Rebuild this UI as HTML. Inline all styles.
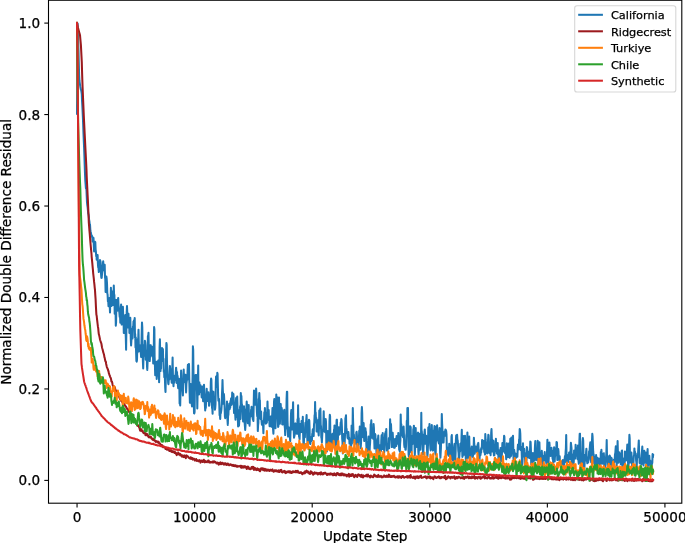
<!DOCTYPE html>
<html><head><meta charset="utf-8"><title>Normalized Double Difference Residual</title>
<style>html,body{margin:0;padding:0;background:#fff;overflow:hidden}svg{display:block;filter:blur(0.35px)}</style>
</head><body>
<svg width="685" height="543" viewBox="0 0 685 543"><rect width="685" height="543" fill="#fff"/><defs><clipPath id="ax"><rect x="48.5" y="0.25" width="633.3" height="502.95"/></clipPath></defs><g clip-path="url(#ax)" fill="none" stroke-width="2.04" stroke-linejoin="round" stroke-linecap="round"><polyline stroke="#1f77b4" points="77.0,114.0 77.3,65.1 77.6,23.6 77.9,32.8 78.2,42.2 78.5,51.3 78.8,63.3 79.1,74.9 79.4,80.5 79.7,82.7 80.0,84.7 80.3,86.7 80.6,88.2 80.9,89.8 81.2,90.3 81.5,92.2 81.8,94.4 82.0,100.2 82.3,105.2 82.6,111.1 82.9,117.7 83.2,125.5 83.5,133.9 83.8,140.9 84.1,147.8 84.4,155.6 84.7,164.9 85.0,173.8 85.3,180.4 85.6,184.1 85.9,188.3 86.2,187.9 86.5,190.7 86.7,195.8 87.0,202.4 87.3,205.2 87.6,207.0 87.9,210.1 88.2,213.5 88.5,214.3 88.8,216.2 89.1,219.7 89.4,221.4 89.7,224.7 90.0,224.4 90.3,229.6 90.6,231.5 90.9,232.7 91.2,234.6 91.5,235.0 91.7,236.5 92.0,235.9 92.3,236.8 92.6,241.6 92.9,239.9 93.2,239.5 93.5,237.9 93.8,245.6 94.1,251.5 94.4,251.1 94.7,244.0 95.0,241.8 95.3,242.1 95.6,249.3 95.9,251.7 96.2,256.3 96.4,254.6 96.7,259.7 97.0,258.3 97.3,256.5 97.6,255.1 97.9,263.3 98.2,267.3 98.5,267.8 98.8,272.1 99.1,271.6 99.4,269.9 99.7,264.0 100.0,260.0 100.3,260.8 100.6,262.2 100.9,270.9 101.2,276.4 101.4,277.9 101.7,277.8 102.0,274.1 102.3,271.7 102.6,267.0 102.9,264.2 103.2,261.2 103.5,266.8 103.8,269.2 104.1,266.9 104.4,270.6 104.7,264.7 105.0,277.1 105.3,279.0 105.6,292.0 105.9,290.3 106.1,286.7 106.4,276.6 106.7,279.0 107.0,283.4 107.3,293.2 107.6,294.6 107.9,301.4 108.2,300.4 108.5,306.3 108.8,301.0 109.1,302.3 109.4,297.9 109.7,304.5 110.0,312.4 110.3,300.5 110.6,303.1 110.9,287.8 111.1,295.6 111.4,290.4 111.7,305.9 112.0,304.3 112.3,293.0 112.6,292.1 112.9,300.1 113.2,305.1 113.5,298.5 113.8,285.5 114.1,295.7 114.4,294.9 114.7,313.8 115.0,299.5 115.3,307.4 115.6,313.3 115.8,325.7 116.1,322.5 116.4,299.9 116.7,301.8 117.0,302.3 117.3,310.7 117.6,299.7 117.9,300.4 118.2,298.0 118.5,305.1 118.8,307.0 119.1,309.8 119.4,313.1 119.7,317.0 120.0,314.1 120.3,322.8 120.6,310.7 120.8,312.8 121.1,304.6 121.4,317.1 121.7,324.6 122.0,322.4 122.3,312.6 122.6,309.7 122.9,306.8 123.2,316.6 123.5,317.4 123.8,333.1 124.1,325.8 124.4,326.7 124.7,320.1 125.0,317.9 125.3,314.9 125.5,330.4 125.8,337.4 126.1,349.7 126.4,327.9 126.7,312.3 127.0,306.1 127.3,313.5 127.6,327.4 127.9,322.4 128.2,319.2 128.5,313.7 128.8,323.4 129.1,317.7 129.4,332.9 129.7,325.2 130.0,328.5 130.3,317.8 130.5,326.8 130.8,339.3 131.1,345.5 131.4,340.4 131.7,329.2 132.0,336.7 132.3,334.4 132.6,338.4 132.9,326.7 133.2,327.2 133.5,321.4 133.8,322.5 134.1,320.2 134.4,326.8 134.7,317.9 135.0,337.6 135.2,333.9 135.5,347.6 135.8,337.6 136.1,351.9 136.4,361.1 136.7,361.6 137.0,359.9 137.3,345.8 137.6,352.5 137.9,339.1 138.2,340.3 138.5,329.8 138.8,343.7 139.1,348.9 139.4,351.3 139.7,350.3 140.0,346.8 140.2,345.6 140.5,351.0 140.8,352.6 141.1,357.0 141.4,347.0 141.7,333.3 142.0,322.6 142.3,327.3 142.6,350.9 142.9,361.7 143.2,368.5 143.5,357.3 143.8,355.5 144.1,345.1 144.4,354.0 144.7,349.2 144.9,340.8 145.2,342.0 145.5,345.3 145.8,359.8 146.1,350.5 146.4,350.5 146.7,352.9 147.0,366.1 147.3,369.9 147.6,361.2 147.9,336.0 148.2,336.4 148.5,332.8 148.8,349.1 149.1,349.9 149.4,357.9 149.7,361.1 149.9,359.1 150.2,345.3 150.5,356.6 150.8,345.2 151.1,355.8 151.4,348.0 151.7,355.0 152.0,352.2 152.3,348.0 152.6,346.8 152.9,348.6 153.2,363.4 153.5,357.4 153.8,347.4 154.1,327.1 154.4,329.5 154.6,356.8 154.9,364.1 155.2,375.2 155.5,370.7 155.8,364.4 156.1,364.5 156.4,361.7 156.7,378.9 157.0,375.4 157.3,374.3 157.6,367.5 157.9,371.2 158.2,360.5 158.5,364.1 158.8,366.3 159.1,382.3 159.4,368.7 159.6,347.4 159.9,339.3 160.2,353.8 160.5,371.1 160.8,366.9 161.1,368.5 161.4,356.6 161.7,354.7 162.0,348.1 162.3,354.4 162.6,359.4 162.9,349.0 163.2,361.4 163.5,358.8 163.8,372.0 164.1,370.5 164.3,377.3 164.6,376.5 164.9,378.0 165.2,387.8 165.5,391.9 165.8,378.5 166.1,355.1 166.4,342.9 166.7,345.0 167.0,363.3 167.3,368.2 167.6,374.1 167.9,377.7 168.2,383.2 168.5,384.3 168.8,379.0 169.1,379.6 169.3,378.1 169.6,379.0 169.9,365.9 170.2,368.8 170.5,369.3 170.8,375.3 171.1,376.6 171.4,379.2 171.7,382.7 172.0,377.3 172.3,369.1 172.6,357.5 172.9,374.6 173.2,381.3 173.5,386.3 173.8,375.9 174.0,376.6 174.3,382.6 174.6,379.2 174.9,375.5 175.2,379.9 175.5,376.6 175.8,371.5 176.1,367.7 176.4,371.4 176.7,382.9 177.0,372.1 177.3,377.5 177.6,375.9 177.9,385.3 178.2,388.2 178.5,384.9 178.8,381.7 179.0,378.8 179.3,383.6 179.6,403.4 179.9,403.4 180.2,405.4 180.5,391.6 180.8,384.7 181.1,370.6 181.4,375.1 181.7,384.7 182.0,387.5 182.3,388.6 182.6,391.0 182.9,395.4 183.2,385.4 183.5,382.0 183.7,369.6 184.0,379.9 184.3,374.6 184.6,381.9 184.9,377.5 185.2,377.6 185.5,374.8 185.8,382.5 186.1,392.4 186.4,383.8 186.7,381.4 187.0,378.2 187.3,379.8 187.6,370.6 187.9,364.7 188.2,378.7 188.5,369.9 188.7,371.1 189.0,363.9 189.3,380.8 189.6,392.2 189.9,402.7 190.2,401.2 190.5,390.9 190.8,384.0 191.1,392.7 191.4,403.1 191.7,403.7 192.0,406.5 192.3,390.3 192.6,376.0 192.9,346.3 193.2,349.8 193.4,366.3 193.7,392.1 194.0,413.2 194.3,413.4 194.6,412.0 194.9,387.7 195.2,379.8 195.5,375.0 195.8,380.8 196.1,380.8 196.4,374.9 196.7,384.4 197.0,392.0 197.3,408.4 197.6,393.3 197.9,381.8 198.2,365.5 198.4,386.8 198.7,393.4 199.0,394.5 199.3,382.3 199.6,385.5 199.9,385.7 200.2,392.1 200.5,385.2 200.8,387.0 201.1,387.4 201.4,393.4 201.7,397.4 202.0,390.4 202.3,391.3 202.6,386.4 202.9,394.2 203.1,401.3 203.4,394.0 203.7,397.9 204.0,384.8 204.3,391.9 204.6,395.8 204.9,405.3 205.2,410.4 205.5,406.3 205.8,407.9 206.1,401.4 206.4,398.4 206.7,388.8 207.0,396.6 207.3,393.5 207.6,400.9 207.9,398.3 208.1,397.0 208.4,392.2 208.7,395.8 209.0,405.8 209.3,405.2 209.6,400.7 209.9,395.7 210.2,401.5 210.5,400.3 210.8,382.0 211.1,378.5 211.4,380.0 211.7,394.6 212.0,408.0 212.3,408.2 212.6,413.7 212.8,391.4 213.1,391.8 213.4,391.8 213.7,401.4 214.0,402.3 214.3,401.9 214.6,401.2 214.9,409.8 215.2,408.4 215.5,404.1 215.8,383.0 216.1,376.4 216.4,380.8 216.7,387.0 217.0,385.0 217.3,372.7 217.6,373.9 217.8,383.0 218.1,394.9 218.4,400.8 218.7,398.4 219.0,398.9 219.3,404.9 219.6,415.3 219.9,414.8 220.2,418.9 220.5,412.0 220.8,413.4 221.1,411.6 221.4,409.4 221.7,404.8 222.0,394.0 222.3,387.4 222.5,380.0 222.8,389.8 223.1,394.4 223.4,403.7 223.7,393.7 224.0,394.7 224.3,400.9 224.6,407.0 224.9,416.4 225.2,418.2 225.5,411.3 225.8,414.6 226.1,416.3 226.4,416.7 226.7,409.6 227.0,401.5 227.3,416.7 227.5,420.5 227.8,424.9 228.1,415.8 228.4,414.9 228.7,406.6 229.0,407.2 229.3,403.7 229.6,409.3 229.9,404.9 230.2,407.8 230.5,400.9 230.8,402.3 231.1,398.2 231.4,404.9 231.7,404.4 232.0,398.8 232.2,392.6 232.5,393.5 232.8,394.4 233.1,400.0 233.4,394.1 233.7,400.1 234.0,413.0 234.3,412.6 234.6,411.9 234.9,406.1 235.2,414.6 235.5,419.7 235.8,402.5 236.1,398.1 236.4,402.7 236.7,412.0 237.0,417.0 237.2,396.5 237.5,407.0 237.8,417.5 238.1,426.5 238.4,423.5 238.7,414.5 239.0,425.7 239.3,420.8 239.6,410.0 239.9,408.9 240.2,406.1 240.5,419.1 240.8,393.0 241.1,398.5 241.4,396.0 241.7,404.6 241.9,404.1 242.2,406.8 242.5,409.3 242.8,415.2 243.1,421.5 243.4,414.4 243.7,413.4 244.0,406.2 244.3,416.1 244.6,422.5 244.9,426.1 245.2,430.0 245.5,425.4 245.8,418.3 246.1,409.1 246.4,408.5 246.7,401.6 246.9,404.9 247.2,408.9 247.5,414.9 247.8,423.2 248.1,411.9 248.4,410.9 248.7,405.1 249.0,419.7 249.3,421.7 249.6,425.7 249.9,414.8 250.2,416.2 250.5,416.4 250.8,415.1 251.1,409.9 251.4,408.4 251.6,406.7 251.9,412.8 252.2,410.9 252.5,416.9 252.8,419.2 253.1,419.8 253.4,421.0 253.7,404.1 254.0,390.6 254.3,391.1 254.6,393.9 254.9,404.7 255.2,399.9 255.5,404.8 255.8,402.7 256.1,388.4 256.4,393.7 256.6,404.6 256.9,412.0 257.2,416.3 257.5,408.6 257.8,431.1 258.1,425.1 258.4,422.6 258.7,399.0 259.0,399.5 259.3,393.0 259.6,399.9 259.9,400.5 260.2,416.9 260.5,418.9 260.8,418.3 261.1,411.4 261.3,417.6 261.6,421.6 261.9,424.7 262.2,421.7 262.5,421.1 262.8,422.2 263.1,426.0 263.4,433.3 263.7,421.3 264.0,420.0 264.3,412.3 264.6,420.2 264.9,408.0 265.2,415.7 265.5,421.0 265.8,423.6 266.1,413.5 266.3,415.6 266.6,423.0 266.9,422.1 267.2,411.9 267.5,401.6 267.8,412.7 268.1,417.0 268.4,418.7 268.7,410.1 269.0,420.4 269.3,420.7 269.6,426.3 269.9,425.9 270.2,425.3 270.5,424.5 270.8,416.9 271.0,416.4 271.3,424.5 271.6,426.8 271.9,424.8 272.2,415.2 272.5,407.9 272.8,420.0 273.1,429.7 273.4,433.7 273.7,425.4 274.0,402.1 274.3,399.1 274.6,408.8 274.9,417.0 275.2,425.2 275.5,428.2 275.8,418.3 276.0,410.8 276.3,394.5 276.6,409.8 276.9,399.2 277.2,402.5 277.5,397.6 277.8,417.4 278.1,426.9 278.4,426.1 278.7,411.6 279.0,397.6 279.3,406.9 279.6,415.8 279.9,423.7 280.2,415.0 280.5,412.0 280.7,403.9 281.0,409.8 281.3,407.5 281.6,407.9 281.9,409.6 282.2,424.2 282.5,424.5 282.8,415.8 283.1,411.6 283.4,416.2 283.7,424.3 284.0,415.0 284.3,409.7 284.6,425.7 284.9,428.0 285.2,435.1 285.5,429.6 285.7,429.2 286.0,426.0 286.3,417.8 286.6,399.0 286.9,391.7 287.2,391.7 287.5,420.2 287.8,428.1 288.1,436.6 288.4,431.0 288.7,432.0 289.0,427.5 289.3,429.9 289.6,430.4 289.9,436.4 290.2,441.1 290.4,435.1 290.7,427.8 291.0,414.0 291.3,410.1 291.6,413.1 291.9,415.4 292.2,429.5 292.5,414.5 292.8,411.1 293.1,402.3 293.4,425.2 293.7,429.7 294.0,437.7 294.3,436.4 294.6,435.3 294.9,425.7 295.2,424.4 295.4,423.4 295.7,429.8 296.0,425.6 296.3,433.6 296.6,431.9 296.9,431.2 297.2,433.8 297.5,419.2 297.8,425.6 298.1,405.3 298.4,425.7 298.7,418.3 299.0,436.1 299.3,437.1 299.6,439.1 299.9,430.0 300.1,429.6 300.4,423.9 300.7,432.2 301.0,424.5 301.3,429.1 301.6,420.9 301.9,432.0 302.2,425.2 302.5,425.4 302.8,416.7 303.1,432.4 303.4,442.6 303.7,446.2 304.0,440.0 304.3,433.6 304.6,432.3 304.9,437.3 305.1,427.5 305.4,422.7 305.7,422.9 306.0,424.2 306.3,419.3 306.6,415.1 306.9,427.3 307.2,437.3 307.5,442.5 307.8,442.0 308.1,436.3 308.4,428.6 308.7,422.5 309.0,419.7 309.3,420.6 309.6,428.9 309.8,440.2 310.1,443.3 310.4,444.0 310.7,438.1 311.0,437.3 311.3,438.9 311.6,441.1 311.9,440.6 312.2,434.5 312.5,432.4 312.8,429.3 313.1,431.3 313.4,433.4 313.7,435.9 314.0,424.5 314.3,422.5 314.6,415.0 314.8,418.5 315.1,401.9 315.4,417.3 315.7,412.6 316.0,422.0 316.3,418.1 316.6,431.6 316.9,429.1 317.2,427.4 317.5,424.6 317.8,420.2 318.1,424.9 318.4,432.4 318.7,435.4 319.0,428.0 319.3,410.5 319.5,422.8 319.8,420.6 320.1,428.0 320.4,408.6 320.7,424.8 321.0,426.4 321.3,437.2 321.6,438.6 321.9,442.4 322.2,436.0 322.5,430.1 322.8,430.1 323.1,431.4 323.4,423.1 323.7,411.3 324.0,422.7 324.3,428.9 324.5,428.8 324.8,428.2 325.1,432.2 325.4,431.8 325.7,419.1 326.0,422.0 326.3,441.9 326.6,451.0 326.9,451.4 327.2,444.7 327.5,435.5 327.8,431.0 328.1,434.3 328.4,436.9 328.7,441.0 329.0,438.0 329.2,441.8 329.5,421.0 329.8,414.8 330.1,416.4 330.4,439.1 330.7,444.8 331.0,446.2 331.3,445.3 331.6,446.5 331.9,437.1 332.2,435.6 332.5,433.7 332.8,444.2 333.1,447.2 333.4,446.7 333.7,441.9 334.0,429.7 334.2,433.1 334.5,425.4 334.8,431.0 335.1,427.1 335.4,443.7 335.7,450.1 336.0,447.2 336.3,430.0 336.6,419.9 336.9,419.6 337.2,431.2 337.5,434.4 337.8,441.4 338.1,434.3 338.4,429.8 338.7,427.2 338.9,434.8 339.2,434.1 339.5,431.1 339.8,434.1 340.1,427.4 340.4,428.0 340.7,422.6 341.0,424.4 341.3,419.1 341.6,420.0 341.9,426.7 342.2,438.9 342.5,441.8 342.8,453.4 343.1,444.5 343.4,449.9 343.7,434.1 343.9,444.1 344.2,439.8 344.5,445.7 344.8,440.5 345.1,431.7 345.4,418.3 345.7,417.4 346.0,415.3 346.3,431.0 346.6,428.8 346.9,433.1 347.2,433.0 347.5,437.4 347.8,438.5 348.1,434.9 348.4,432.0 348.6,434.6 348.9,439.5 349.2,437.8 349.5,443.6 349.8,443.1 350.1,439.3 350.4,444.1 350.7,444.5 351.0,448.3 351.3,443.8 351.6,425.5 351.9,443.8 352.2,426.8 352.5,433.4 352.8,408.0 353.1,421.4 353.4,429.7 353.6,440.0 353.9,434.6 354.2,442.4 354.5,439.6 354.8,438.8 355.1,438.9 355.4,439.5 355.7,443.8 356.0,443.1 356.3,432.6 356.6,431.7 356.9,434.8 357.2,444.1 357.5,449.2 357.8,445.7 358.1,445.3 358.3,445.1 358.6,436.8 358.9,440.4 359.2,430.8 359.5,436.8 359.8,426.4 360.1,435.8 360.4,437.5 360.7,448.2 361.0,443.1 361.3,436.3 361.6,413.4 361.9,407.0 362.2,413.1 362.5,430.2 362.8,435.6 363.1,437.1 363.3,426.9 363.6,423.1 363.9,428.7 364.2,441.0 364.5,439.0 364.8,432.7 365.1,430.0 365.4,428.3 365.7,431.5 366.0,431.9 366.3,443.5 366.6,451.3 366.9,446.8 367.2,450.0 367.5,444.1 367.8,451.1 368.0,442.8 368.3,440.4 368.6,436.4 368.9,448.4 369.2,448.6 369.5,454.4 369.8,446.6 370.1,442.9 370.4,435.4 370.7,424.3 371.0,424.9 371.3,420.3 371.6,433.6 371.9,437.7 372.2,435.5 372.5,429.4 372.8,436.2 373.0,435.6 373.3,438.8 373.6,424.0 373.9,428.0 374.2,438.4 374.5,448.5 374.8,442.2 375.1,433.9 375.4,435.1 375.7,442.7 376.0,445.3 376.3,447.1 376.6,456.3 376.9,456.4 377.2,453.7 377.5,445.3 377.7,438.9 378.0,439.0 378.3,435.5 378.6,445.2 378.9,447.9 379.2,453.6 379.5,450.6 379.8,451.8 380.1,449.1 380.4,445.0 380.7,449.2 381.0,450.9 381.3,440.4 381.6,435.2 381.9,441.6 382.2,449.1 382.5,445.0 382.7,433.1 383.0,440.7 383.3,438.6 383.6,444.9 383.9,445.5 384.2,452.3 384.5,449.6 384.8,440.8 385.1,433.7 385.4,433.1 385.7,431.7 386.0,435.1 386.3,429.1 386.6,442.8 386.9,450.3 387.2,450.8 387.4,450.7 387.7,445.1 388.0,449.0 388.3,445.0 388.6,445.7 388.9,438.1 389.2,448.3 389.5,442.0 389.8,437.1 390.1,419.2 390.4,426.3 390.7,436.2 391.0,424.1 391.3,432.3 391.6,436.6 391.9,447.1 392.2,438.2 392.4,437.8 392.7,432.7 393.0,438.6 393.3,439.3 393.6,446.1 393.9,447.2 394.2,447.9 394.5,445.5 394.8,447.6 395.1,439.0 395.4,438.9 395.7,440.3 396.0,442.9 396.3,446.0 396.6,436.0 396.9,442.5 397.1,437.1 397.4,439.2 397.7,442.5 398.0,443.7 398.3,432.9 398.6,443.0 398.9,442.2 399.2,449.9 399.5,444.5 399.8,451.8 400.1,443.8 400.4,440.1 400.7,414.6 401.0,428.0 401.3,424.3 401.6,435.6 401.9,435.0 402.1,427.4 402.4,427.6 402.7,431.1 403.0,437.3 403.3,431.4 403.6,426.5 403.9,433.6 404.2,444.7 404.5,447.0 404.8,444.9 405.1,443.7 405.4,449.6 405.7,449.8 406.0,446.2 406.3,435.3 406.6,433.2 406.8,420.8 407.1,429.1 407.4,408.0 407.7,411.8 408.0,408.0 408.3,436.1 408.6,454.4 408.9,456.6 409.2,454.2 409.5,429.7 409.8,437.8 410.1,426.2 410.4,440.6 410.7,427.1 411.0,452.1 411.3,450.7 411.6,451.3 411.8,436.6 412.1,436.1 412.4,444.3 412.7,443.0 413.0,440.8 413.3,429.1 413.6,428.7 413.9,425.7 414.2,429.9 414.5,444.4 414.8,455.2 415.1,448.8 415.4,438.2 415.7,428.1 416.0,441.4 416.3,445.0 416.5,444.2 416.8,443.6 417.1,447.1 417.4,436.9 417.7,433.2 418.0,432.6 418.3,451.3 418.6,455.0 418.9,449.7 419.2,437.4 419.5,433.8 419.8,437.8 420.1,445.1 420.4,449.7 420.7,443.7 421.0,439.6 421.3,412.8 421.5,429.9 421.8,431.6 422.1,437.3 422.4,434.6 422.7,443.3 423.0,454.6 423.3,453.4 423.6,445.9 423.9,441.6 424.2,436.3 424.5,432.2 424.8,429.4 425.1,436.3 425.4,443.7 425.7,442.7 426.0,437.7 426.2,435.8 426.5,436.6 426.8,444.1 427.1,451.3 427.4,457.0 427.7,453.0 428.0,444.3 428.3,427.4 428.6,432.7 428.9,429.1 429.2,431.1 429.5,423.9 429.8,435.4 430.1,444.3 430.4,448.6 430.7,450.4 431.0,447.3 431.2,439.5 431.5,436.6 431.8,425.0 432.1,437.0 432.4,435.3 432.7,448.7 433.0,450.6 433.3,447.8 433.6,446.9 433.9,431.1 434.2,429.8 434.5,425.9 434.8,440.4 435.1,450.8 435.4,453.6 435.7,454.7 435.9,441.8 436.2,440.8 436.5,426.5 436.8,431.1 437.1,425.3 437.4,436.1 437.7,439.6 438.0,440.8 438.3,436.6 438.6,442.4 438.9,443.4 439.2,432.6 439.5,428.0 439.8,433.7 440.1,452.4 440.4,457.8 440.7,452.1 440.9,448.5 441.2,438.7 441.5,434.3 441.8,414.0 442.1,423.3 442.4,429.2 442.7,442.6 443.0,434.5 443.3,438.6 443.6,442.5 443.9,435.1 444.2,434.2 444.5,431.6 444.8,434.1 445.1,432.0 445.4,429.5 445.6,435.8 445.9,430.0 446.2,431.3 446.5,434.3 446.8,449.3 447.1,453.2 447.4,453.7 447.7,450.2 448.0,447.8 448.3,455.2 448.6,455.7 448.9,454.3 449.2,443.8 449.5,449.0 449.8,446.0 450.1,449.0 450.4,450.3 450.6,459.3 450.9,458.5 451.2,449.5 451.5,436.6 451.8,435.1 452.1,448.3 452.4,456.4 452.7,460.4 453.0,456.8 453.3,460.7 453.6,457.1 453.9,453.8 454.2,445.9 454.5,443.9 454.8,451.9 455.1,456.5 455.3,460.2 455.6,452.6 455.9,440.4 456.2,435.5 456.5,435.2 456.8,443.1 457.1,434.8 457.4,439.6 457.7,440.3 458.0,444.5 458.3,450.9 458.6,453.1 458.9,461.3 459.2,457.9 459.5,454.5 459.8,448.3 460.1,451.4 460.3,443.8 460.6,445.7 460.9,447.2 461.2,448.1 461.5,437.4 461.8,429.7 462.1,448.4 462.4,457.0 462.7,456.0 463.0,448.4 463.3,435.9 463.6,447.7 463.9,444.2 464.2,454.7 464.5,441.4 464.8,445.8 465.0,435.7 465.3,447.7 465.6,454.0 465.9,461.8 466.2,461.8 466.5,460.7 466.8,451.8 467.1,441.5 467.4,432.6 467.7,447.0 468.0,454.0 468.3,457.8 468.6,446.5 468.9,444.1 469.2,436.5 469.5,447.7 469.8,457.7 470.0,461.7 470.3,463.0 470.6,453.4 470.9,449.5 471.2,448.4 471.5,453.3 471.8,446.4 472.1,447.1 472.4,449.6 472.7,456.9 473.0,455.9 473.3,454.1 473.6,451.0 473.9,437.8 474.2,443.7 474.5,446.5 474.7,453.8 475.0,448.8 475.3,449.7 475.6,451.6 475.9,446.4 476.2,447.9 476.5,446.9 476.8,451.9 477.1,449.3 477.4,449.5 477.7,444.3 478.0,445.0 478.3,442.9 478.6,448.5 478.9,453.1 479.2,457.1 479.5,460.4 479.7,455.8 480.0,455.4 480.3,455.5 480.6,454.3 480.9,449.1 481.2,452.4 481.5,447.4 481.8,449.1 482.1,440.0 482.4,443.8 482.7,444.4 483.0,447.3 483.3,440.8 483.6,447.6 483.9,444.9 484.2,452.0 484.4,452.1 484.7,452.3 485.0,454.5 485.3,434.1 485.6,439.7 485.9,442.4 486.2,452.2 486.5,447.2 486.8,452.6 487.1,453.5 487.4,453.4 487.7,445.4 488.0,441.0 488.3,434.8 488.6,435.1 488.9,440.7 489.2,450.6 489.4,453.0 489.7,453.2 490.0,451.6 490.3,450.5 490.6,455.2 490.9,446.0 491.2,432.5 491.5,429.1 491.8,437.7 492.1,451.4 492.4,442.6 492.7,442.4 493.0,440.5 493.3,449.1 493.6,450.6 493.9,455.4 494.1,451.5 494.4,455.2 494.7,448.1 495.0,450.9 495.3,440.9 495.6,444.3 495.9,438.7 496.2,450.4 496.5,447.2 496.8,453.4 497.1,447.2 497.4,449.9 497.7,443.1 498.0,454.7 498.3,453.5 498.6,462.6 498.9,450.2 499.1,459.5 499.4,457.8 499.7,465.8 500.0,454.9 500.3,456.0 500.6,447.9 500.9,457.6 501.2,459.4 501.5,461.0 501.8,457.0 502.1,450.0 502.4,443.1 502.7,445.2 503.0,444.3 503.3,450.8 503.6,451.4 503.8,440.9 504.1,435.7 504.4,436.8 504.7,451.7 505.0,452.9 505.3,447.3 505.6,449.3 505.9,453.7 506.2,459.3 506.5,457.1 506.8,443.2 507.1,455.2 507.4,451.7 507.7,457.0 508.0,451.5 508.3,455.9 508.6,457.0 508.8,443.6 509.1,445.3 509.4,455.2 509.7,457.8 510.0,446.5 510.3,438.8 510.6,455.7 510.9,456.1 511.2,455.6 511.5,437.6 511.8,446.9 512.1,447.9 512.4,453.6 512.7,446.8 513.0,435.8 513.3,448.1 513.5,458.9 513.8,457.6 514.1,449.7 514.4,451.8 514.7,459.2 515.0,458.3 515.3,453.2 515.6,455.4 515.9,456.3 516.2,457.7 516.5,454.4 516.8,455.3 517.1,454.7 517.4,456.7 517.7,448.6 518.0,444.4 518.3,444.4 518.5,448.9 518.8,449.5 519.1,439.5 519.4,438.9 519.7,429.0 520.0,430.1 520.3,433.8 520.6,447.8 520.9,450.1 521.2,448.7 521.5,447.1 521.8,457.2 522.1,464.9 522.4,463.6 522.7,456.8 523.0,443.3 523.2,452.3 523.5,450.9 523.8,456.5 524.1,448.7 524.4,451.9 524.7,453.5 525.0,457.7 525.3,465.7 525.6,466.1 525.9,468.3 526.2,462.6 526.5,459.4 526.8,447.0 527.1,447.5 527.4,451.2 527.7,453.9 528.0,457.2 528.2,451.6 528.5,451.8 528.8,454.6 529.1,457.1 529.4,458.1 529.7,455.3 530.0,451.1 530.3,441.6 530.6,441.9 530.9,449.2 531.2,464.3 531.5,463.6 531.8,463.8 532.1,463.4 532.4,462.2 532.7,458.9 532.9,453.1 533.2,456.0 533.5,461.6 533.8,456.4 534.1,460.7 534.4,458.5 534.7,453.7 535.0,445.8 535.3,441.1 535.6,453.0 535.9,458.2 536.2,460.2 536.5,458.3 536.8,457.8 537.1,456.4 537.4,452.7 537.7,440.7 537.9,451.8 538.2,460.9 538.5,468.2 538.8,460.9 539.1,454.7 539.4,442.3 539.7,452.9 540.0,460.1 540.3,462.1 540.6,458.9 540.9,457.8 541.2,457.7 541.5,455.6 541.8,450.7 542.1,456.2 542.4,465.4 542.6,466.7 542.9,462.4 543.2,456.1 543.5,456.8 543.8,460.9 544.1,457.3 544.4,455.8 544.7,452.1 545.0,459.1 545.3,460.2 545.6,460.0 545.9,460.0 546.2,462.6 546.5,463.9 546.8,456.6 547.1,450.1 547.4,439.7 547.6,447.7 547.9,450.4 548.2,461.7 548.5,463.1 548.8,457.4 549.1,449.9 549.4,442.6 549.7,446.9 550.0,448.8 550.3,453.4 550.6,455.9 550.9,452.9 551.2,449.7 551.5,447.8 551.8,450.5 552.1,452.3 552.3,455.2 552.6,458.8 552.9,456.5 553.2,462.7 553.5,460.5 553.8,455.5 554.1,447.2 554.4,452.0 554.7,461.5 555.0,455.7 555.3,451.4 555.6,448.3 555.9,454.3 556.2,455.3 556.5,441.9 556.8,442.2 557.0,442.9 557.3,460.1 557.6,458.2 557.9,454.9 558.2,449.0 558.5,451.1 558.8,459.1 559.1,460.0 559.4,460.2 559.7,456.2 560.0,463.0 560.3,465.3 560.6,465.5 560.9,461.5 561.2,464.1 561.5,462.9 561.8,462.4 562.0,461.3 562.3,463.4 562.6,466.1 562.9,460.0 563.2,465.8 563.5,464.3 563.8,470.0 564.1,465.5 564.4,462.0 564.7,458.3 565.0,456.0 565.3,462.0 565.6,452.0 565.9,448.0 566.2,434.9 566.5,454.0 566.7,461.5 567.0,462.2 567.3,458.5 567.6,455.2 567.9,458.2 568.2,461.9 568.5,458.5 568.8,459.6 569.1,452.5 569.4,458.5 569.7,456.5 570.0,459.2 570.3,453.0 570.6,450.2 570.9,442.8 571.2,445.3 571.5,448.0 571.7,462.5 572.0,461.4 572.3,463.9 572.6,454.4 572.9,458.7 573.2,462.3 573.5,464.0 573.8,461.3 574.1,450.4 574.4,450.9 574.7,457.6 575.0,457.5 575.3,458.6 575.6,444.7 575.9,452.3 576.2,450.9 576.4,455.8 576.7,448.6 577.0,453.0 577.3,450.3 577.6,459.2 577.9,445.4 578.2,455.6 578.5,460.8 578.8,463.8 579.1,459.5 579.4,440.7 579.7,433.7 580.0,433.8 580.3,449.4 580.6,459.7 580.9,463.0 581.2,464.8 581.4,464.0 581.7,469.4 582.0,467.1 582.3,466.3 582.6,441.9 582.9,438.0 583.2,440.7 583.5,454.8 583.8,462.0 584.1,462.4 584.4,468.5 584.7,461.8 585.0,457.6 585.3,454.7 585.6,460.6 585.9,459.3 586.1,452.4 586.4,448.7 586.7,456.9 587.0,460.8 587.3,463.3 587.6,457.2 587.9,458.0 588.2,462.4 588.5,459.4 588.8,459.9 589.1,451.3 589.4,457.6 589.7,449.1 590.0,445.2 590.3,442.3 590.6,443.0 590.9,457.0 591.1,462.1 591.4,462.6 591.7,452.9 592.0,440.8 592.3,433.8 592.6,436.7 592.9,444.8 593.2,452.0 593.5,454.3 593.8,455.6 594.1,463.3 594.4,459.1 594.7,462.5 595.0,456.9 595.3,465.8 595.6,458.8 595.8,464.1 596.1,455.0 596.4,464.4 596.7,462.7 597.0,462.4 597.3,459.7 597.6,457.7 597.9,463.5 598.2,467.5 598.5,466.9 598.8,464.4 599.1,460.6 599.4,458.7 599.7,462.7 600.0,462.3 600.3,464.9 600.6,464.5 600.8,451.9 601.1,457.5 601.4,449.7 601.7,455.2 602.0,454.0 602.3,462.7 602.6,463.6 602.9,463.5 603.2,456.2 603.5,453.7 603.8,453.2 604.1,459.0 604.4,469.1 604.7,468.0 605.0,467.9 605.3,459.8 605.5,459.8 605.8,461.5 606.1,456.5 606.4,452.8 606.7,439.9 607.0,456.2 607.3,462.0 607.6,466.2 607.9,464.2 608.2,465.2 608.5,462.5 608.8,460.5 609.1,456.0 609.4,459.9 609.7,455.6 610.0,456.4 610.3,464.6 610.5,469.5 610.8,469.9 611.1,459.2 611.4,457.8 611.7,458.5 612.0,464.1 612.3,460.8 612.6,461.4 612.9,461.0 613.2,465.3 613.5,462.2 613.8,459.9 614.1,462.6 614.4,462.3 614.7,460.9 615.0,454.1 615.2,455.0 615.5,450.2 615.8,446.3 616.1,451.5 616.4,457.6 616.7,465.2 617.0,458.1 617.3,455.7 617.6,441.1 617.9,452.9 618.2,462.8 618.5,462.5 618.8,461.3 619.1,452.3 619.4,459.0 619.7,455.2 620.0,453.6 620.2,460.3 620.5,460.6 620.8,464.3 621.1,460.6 621.4,458.1 621.7,451.2 622.0,450.5 622.3,465.3 622.6,467.4 622.9,464.9 623.2,458.6 623.5,463.7 623.8,467.4 624.1,470.0 624.4,466.5 624.7,461.6 624.9,451.5 625.2,456.1 625.5,458.6 625.8,460.4 626.1,459.6 626.4,460.3 626.7,453.7 627.0,450.0 627.3,444.5 627.6,457.9 627.9,458.5 628.2,466.9 628.5,465.8 628.8,462.2 629.1,443.8 629.4,434.8 629.7,438.7 629.9,451.6 630.2,459.6 630.5,462.6 630.8,459.9 631.1,460.5 631.4,452.6 631.7,459.3 632.0,462.3 632.3,470.4 632.6,471.7 632.9,471.0 633.2,466.4 633.5,462.1 633.8,455.9 634.1,455.9 634.4,448.4 634.6,452.4 634.9,451.4 635.2,455.7 635.5,453.3 635.8,453.8 636.1,460.4 636.4,462.6 636.7,467.6 637.0,458.6 637.3,455.7 637.6,455.9 637.9,457.2 638.2,450.5 638.5,445.3 638.8,440.4 639.1,450.8 639.4,455.6 639.6,463.0 639.9,462.8 640.2,463.5 640.5,458.6 640.8,458.3 641.1,460.2 641.4,464.3 641.7,456.4 642.0,451.1 642.3,446.6 642.6,454.5 642.9,456.7 643.2,462.7 643.5,465.5 643.8,457.2 644.1,459.1 644.3,450.8 644.6,462.7 644.9,459.4 645.2,462.1 645.5,455.8 645.8,452.6 646.1,462.3 646.4,463.1 646.7,467.2 647.0,452.4 647.3,455.2 647.6,449.1 647.9,462.9 648.2,463.7 648.5,467.3 648.8,463.3 649.1,462.7 649.3,455.8 649.6,462.2 649.9,463.0 650.2,460.6 650.5,461.7 650.8,465.7 651.1,468.0 651.4,468.4 651.7,465.1 652.0,463.6 652.3,462.6 652.6,454.0 652.9,457.4 653.2,454.7"/><polyline stroke="#9c1a1e" points="77.0,22.7 77.3,24.4 77.6,26.1 77.9,27.5 78.2,28.6 78.5,29.7 78.8,30.8 79.1,31.9 79.4,33.0 79.7,34.1 80.0,35.2 80.3,38.6 80.6,41.8 80.9,45.1 81.2,50.7 81.5,56.5 81.8,62.4 82.0,69.7 82.3,79.2 82.6,87.8 82.9,94.7 83.2,101.8 83.5,108.6 83.8,115.7 84.1,122.0 84.4,128.0 84.7,134.2 85.0,140.1 85.3,146.1 85.6,152.1 85.9,157.9 86.2,163.8 86.5,170.0 86.7,176.4 87.0,182.6 87.3,188.5 87.6,194.8 87.9,200.6 88.2,207.6 88.5,214.4 88.8,222.4 89.1,226.2 89.4,230.2 89.7,233.5 90.0,237.2 90.3,240.9 90.6,244.5 90.9,247.6 91.2,250.9 91.5,254.0 91.7,257.1 92.0,260.1 92.3,263.2 92.6,266.7 92.9,269.7 93.2,273.3 93.5,276.0 93.8,278.7 94.1,281.9 94.4,284.4 94.7,287.6 95.0,290.2 95.3,295.1 95.6,299.4 95.9,306.1 96.2,311.6 96.4,314.6 96.7,316.0 97.0,319.0 97.3,321.4 97.6,324.0 97.9,326.4 98.2,328.2 98.5,331.4 98.8,334.2 99.1,335.0 99.4,336.4 99.7,337.9 100.0,339.5 100.3,340.5 100.6,341.3 100.9,342.6 101.2,342.9 101.4,343.7 101.7,345.5 102.0,347.4 102.3,348.5 102.6,349.4 102.9,350.7 103.2,352.1 103.5,353.0 103.8,354.0 104.1,355.1 104.4,357.2 104.7,357.9 105.0,359.6 105.3,360.9 105.6,361.8 105.9,361.8 106.1,363.7 106.4,365.0 106.7,366.4 107.0,367.5 107.3,368.0 107.6,369.1 107.9,369.2 108.2,370.8 108.5,371.0 108.8,373.2 109.1,373.7 109.4,375.0 109.7,375.4 110.0,376.4 110.3,377.2 110.6,377.8 110.9,378.4 111.1,379.4 111.4,381.4 111.7,381.2 112.0,381.8 112.3,383.1 112.6,384.8 112.9,385.6 113.2,386.1 113.5,387.4 113.8,387.2 114.1,387.5 114.4,387.3 114.7,387.1 115.0,388.2 115.3,389.3 115.6,389.8 115.8,391.0 116.1,391.1 116.4,391.6 116.7,392.7 117.0,393.3 117.3,393.0 117.6,394.4 117.9,394.7 118.2,395.5 118.5,395.4 118.8,395.9 119.1,396.6 119.4,397.8 119.7,397.9 120.0,399.3 120.3,399.3 120.6,398.9 120.8,400.3 121.1,399.6 121.4,401.1 121.7,401.5 122.0,401.0 122.3,402.4 122.6,402.4 122.9,402.9 123.2,401.8 123.5,403.7 123.8,404.4 124.1,405.2 124.4,404.3 124.7,404.8 125.0,405.2 125.3,406.1 125.5,406.6 125.8,406.3 126.1,406.9 126.4,407.3 126.7,408.0 127.0,408.7 127.3,409.2 127.6,409.5 127.9,409.1 128.2,410.4 128.5,410.6 128.8,411.1 129.1,412.1 129.4,412.6 129.7,412.4 130.0,412.3 130.3,414.0 130.5,413.7 130.8,414.6 131.1,414.5 131.4,414.2 131.7,414.6 132.0,415.8 132.3,417.0 132.6,417.5 132.9,417.6 133.2,417.7 133.5,419.1 133.8,418.9 134.1,419.7 134.4,419.6 134.7,420.0 135.0,420.9 135.2,420.5 135.5,421.7 135.8,421.5 136.1,421.9 136.4,423.9 136.7,423.0 137.0,424.1 137.3,425.7 137.6,425.7 137.9,425.9 138.2,425.9 138.5,425.3 138.8,425.7 139.1,427.3 139.4,427.7 139.7,429.1 140.0,430.2 140.2,430.8 140.5,429.7 140.8,429.8 141.1,429.1 141.4,429.9 141.7,431.0 142.0,431.2 142.3,430.5 142.6,430.5 142.9,432.1 143.2,432.6 143.5,433.1 143.8,432.5 144.1,432.5 144.4,432.8 144.7,432.7 144.9,432.8 145.2,433.9 145.5,435.2 145.8,434.7 146.1,434.0 146.4,433.7 146.7,434.9 147.0,434.9 147.3,435.7 147.6,434.3 147.9,435.1 148.2,435.8 148.5,437.0 148.8,436.2 149.1,437.5 149.4,436.6 149.7,436.5 149.9,436.7 150.2,437.2 150.5,437.3 150.8,436.5 151.1,438.0 151.4,438.5 151.7,438.1 152.0,438.3 152.3,439.4 152.6,439.3 152.9,439.4 153.2,440.1 153.5,438.9 153.8,439.0 154.1,439.3 154.4,439.4 154.6,440.7 154.9,440.8 155.2,440.8 155.5,441.7 155.8,441.9 156.1,441.3 156.4,441.2 156.7,441.1 157.0,441.6 157.3,441.8 157.6,441.8 157.9,442.5 158.2,442.1 158.5,441.7 158.8,442.1 159.1,443.4 159.4,443.6 159.6,443.6 159.9,443.7 160.2,443.6 160.5,445.0 160.8,444.8 161.1,445.1 161.4,445.6 161.7,445.1 162.0,445.1 162.3,445.3 162.6,446.8 162.9,446.6 163.2,447.2 163.5,446.7 163.8,446.6 164.1,447.1 164.3,446.7 164.6,446.7 164.9,447.3 165.2,447.7 165.5,448.9 165.8,448.2 166.1,448.4 166.4,448.2 166.7,449.6 167.0,448.7 167.3,448.5 167.6,449.7 167.9,449.3 168.2,449.5 168.5,449.0 168.8,450.0 169.1,450.1 169.3,450.9 169.6,450.1 169.9,450.7 170.2,450.9 170.5,451.1 170.8,450.4 171.1,451.0 171.4,451.4 171.7,451.8 172.0,451.1 172.3,452.1 172.6,451.2 172.9,452.0 173.2,451.7 173.5,451.4 173.8,451.6 174.0,451.5 174.3,452.9 174.6,452.1 174.9,451.9 175.2,452.7 175.5,452.6 175.8,453.8 176.1,453.0 176.4,453.5 176.7,455.1 177.0,454.1 177.3,453.8 177.6,453.8 177.9,453.9 178.2,452.5 178.5,453.4 178.8,453.3 179.0,454.4 179.3,454.8 179.6,454.8 179.9,454.9 180.2,453.9 180.5,455.5 180.8,454.4 181.1,454.9 181.4,455.8 181.7,455.4 182.0,456.7 182.3,456.2 182.6,455.9 182.9,455.4 183.2,455.7 183.5,457.1 183.7,456.8 184.0,456.6 184.3,457.0 184.6,456.8 184.9,455.4 185.2,456.6 185.5,457.0 185.8,458.2 186.1,456.6 186.4,456.8 186.7,455.4 187.0,455.9 187.3,456.0 187.6,456.2 187.9,456.5 188.2,457.1 188.5,457.6 188.7,457.8 189.0,457.9 189.3,457.9 189.6,458.2 189.9,458.5 190.2,458.7 190.5,457.3 190.8,457.8 191.1,458.1 191.4,457.7 191.7,459.0 192.0,458.5 192.3,458.7 192.6,458.1 192.9,459.6 193.2,459.1 193.4,459.4 193.7,459.4 194.0,458.7 194.3,459.4 194.6,459.3 194.9,460.6 195.2,459.8 195.5,460.0 195.8,459.6 196.1,459.0 196.4,460.3 196.7,460.9 197.0,460.7 197.3,460.3 197.6,460.8 197.9,460.3 198.2,461.2 198.4,461.4 198.7,460.7 199.0,460.2 199.3,460.2 199.6,460.0 199.9,460.7 200.2,461.6 200.5,462.6 200.8,460.9 201.1,460.9 201.4,460.6 201.7,460.5 202.0,461.1 202.3,461.4 202.6,462.0 202.9,461.8 203.1,461.4 203.4,460.2 203.7,459.7 204.0,460.9 204.3,462.0 204.6,462.3 204.9,460.7 205.2,461.5 205.5,461.0 205.8,462.1 206.1,461.6 206.4,461.6 206.7,462.0 207.0,462.2 207.3,461.2 207.6,461.5 207.9,461.2 208.1,460.5 208.4,460.6 208.7,460.5 209.0,462.2 209.3,462.0 209.6,462.1 209.9,462.6 210.2,461.9 210.5,462.4 210.8,462.1 211.1,462.2 211.4,462.1 211.7,462.5 212.0,461.7 212.3,461.8 212.6,462.4 212.8,462.3 213.1,461.4 213.4,461.5 213.7,462.5 214.0,462.0 214.3,461.4 214.6,462.2 214.9,461.7 215.2,461.7 215.5,462.0 215.8,462.7 216.1,462.6 216.4,463.5 216.7,462.7 217.0,463.0 217.3,462.5 217.6,462.5 217.8,462.9 218.1,463.9 218.4,463.8 218.7,464.6 219.0,463.9 219.3,462.9 219.6,464.2 219.9,463.9 220.2,462.8 220.5,462.4 220.8,463.1 221.1,464.3 221.4,463.3 221.7,463.8 222.0,463.2 222.3,462.7 222.5,462.8 222.8,463.1 223.1,463.9 223.4,464.2 223.7,463.7 224.0,464.6 224.3,463.2 224.6,463.6 224.9,463.9 225.2,464.4 225.5,463.3 225.8,463.8 226.1,463.5 226.4,464.9 226.7,464.0 227.0,464.3 227.3,464.0 227.5,464.8 227.8,463.5 228.1,464.2 228.4,464.1 228.7,464.6 229.0,465.2 229.3,465.3 229.6,465.0 229.9,464.6 230.2,464.4 230.5,464.8 230.8,464.4 231.1,464.8 231.4,465.0 231.7,465.2 232.0,465.6 232.2,465.1 232.5,465.3 232.8,465.4 233.1,464.8 233.4,465.9 233.7,465.9 234.0,465.7 234.3,465.2 234.6,466.1 234.9,466.2 235.2,466.0 235.5,465.3 235.8,465.4 236.1,466.1 236.4,466.6 236.7,466.5 237.0,465.7 237.2,466.1 237.5,466.8 237.8,466.8 238.1,466.5 238.4,466.5 238.7,466.1 239.0,466.1 239.3,466.2 239.6,466.2 239.9,466.3 240.2,465.7 240.5,467.1 240.8,467.0 241.1,467.6 241.4,467.0 241.7,466.7 241.9,465.9 242.2,467.6 242.5,467.1 242.8,467.3 243.1,467.6 243.4,466.2 243.7,467.4 244.0,467.0 244.3,467.5 244.6,466.6 244.9,466.1 245.2,467.2 245.5,467.2 245.8,466.7 246.1,467.9 246.4,467.1 246.7,468.9 246.9,468.8 247.2,468.6 247.5,467.7 247.8,466.6 248.1,466.6 248.4,466.9 248.7,468.5 249.0,468.9 249.3,468.2 249.6,468.2 249.9,469.1 250.2,469.2 250.5,468.7 250.8,468.5 251.1,468.4 251.4,467.8 251.6,467.1 251.9,468.6 252.2,468.0 252.5,467.9 252.8,466.8 253.1,467.5 253.4,469.0 253.7,467.3 254.0,469.9 254.3,469.5 254.6,468.8 254.9,468.0 255.2,469.2 255.5,469.2 255.8,469.7 256.1,468.8 256.4,469.0 256.6,470.1 256.9,469.4 257.2,469.8 257.5,468.4 257.8,468.8 258.1,469.0 258.4,470.2 258.7,469.5 259.0,469.1 259.3,470.0 259.6,469.8 259.9,471.3 260.2,471.1 260.5,469.9 260.8,469.4 261.1,468.2 261.3,469.0 261.6,469.4 261.9,469.1 262.2,468.3 262.5,468.8 262.8,469.5 263.1,470.1 263.4,469.6 263.7,468.6 264.0,468.9 264.3,470.3 264.6,470.4 264.9,470.7 265.2,468.9 265.5,469.6 265.8,469.3 266.1,469.2 266.3,469.6 266.6,470.5 266.9,470.8 267.2,470.2 267.5,469.6 267.8,469.7 268.1,470.5 268.4,469.8 268.7,470.4 269.0,470.7 269.3,470.9 269.6,470.2 269.9,469.9 270.2,469.6 270.5,470.5 270.8,470.2 271.0,470.7 271.3,470.4 271.6,470.0 271.9,470.7 272.2,470.7 272.5,469.4 272.8,470.7 273.1,471.2 273.4,471.1 273.7,471.8 274.0,471.0 274.3,471.2 274.6,470.2 274.9,470.4 275.2,470.8 275.5,471.2 275.8,470.7 276.0,470.4 276.3,470.2 276.6,470.9 276.9,470.8 277.2,471.6 277.5,471.5 277.8,471.0 278.1,470.7 278.4,470.3 278.7,471.7 279.0,472.0 279.3,471.7 279.6,472.0 279.9,470.8 280.2,470.3 280.5,470.0 280.7,470.2 281.0,470.1 281.3,469.9 281.6,471.1 281.9,472.1 282.2,471.7 282.5,472.5 282.8,471.8 283.1,471.7 283.4,471.2 283.7,471.3 284.0,471.7 284.3,470.9 284.6,472.2 284.9,471.5 285.2,471.4 285.5,473.0 285.7,473.1 286.0,472.7 286.3,472.8 286.6,472.3 286.9,471.7 287.2,471.5 287.5,471.6 287.8,472.1 288.1,472.3 288.4,471.3 288.7,471.4 289.0,472.1 289.3,471.7 289.6,472.0 289.9,471.2 290.2,472.8 290.4,472.0 290.7,471.8 291.0,471.9 291.3,473.0 291.6,473.0 291.9,473.0 292.2,472.2 292.5,471.4 292.8,472.2 293.1,472.3 293.4,472.1 293.7,471.4 294.0,471.7 294.3,471.7 294.6,471.5 294.9,472.2 295.2,471.4 295.4,472.2 295.7,471.7 296.0,470.9 296.3,471.6 296.6,472.3 296.9,471.4 297.2,472.0 297.5,472.3 297.8,470.8 298.1,471.6 298.4,471.7 298.7,472.8 299.0,472.4 299.3,472.9 299.6,472.9 299.9,472.8 300.1,473.0 300.4,472.6 300.7,472.7 301.0,472.1 301.3,472.8 301.6,472.7 301.9,473.1 302.2,474.3 302.5,473.5 302.8,473.4 303.1,472.9 303.4,473.4 303.7,472.5 304.0,473.5 304.3,472.3 304.6,472.5 304.9,473.3 305.1,471.2 305.4,472.7 305.7,471.9 306.0,472.2 306.3,471.3 306.6,470.6 306.9,471.1 307.2,471.8 307.5,472.4 307.8,472.1 308.1,471.5 308.4,471.9 308.7,473.0 309.0,472.8 309.3,473.7 309.6,473.6 309.8,473.9 310.1,474.0 310.4,472.7 310.7,471.3 311.0,472.0 311.3,471.5 311.6,473.0 311.9,473.3 312.2,472.5 312.5,473.7 312.8,473.4 313.1,474.7 313.4,473.2 313.7,474.3 314.0,473.2 314.3,472.5 314.6,472.3 314.8,473.6 315.1,472.8 315.4,473.2 315.7,473.5 316.0,472.9 316.3,473.3 316.6,472.8 316.9,472.8 317.2,473.5 317.5,474.2 317.8,474.5 318.1,473.4 318.4,473.2 318.7,473.0 319.0,473.9 319.3,473.7 319.5,473.3 319.8,472.9 320.1,473.7 320.4,474.5 320.7,473.3 321.0,472.2 321.3,473.9 321.6,473.6 321.9,474.0 322.2,474.4 322.5,473.9 322.8,474.0 323.1,473.0 323.4,474.2 323.7,473.4 324.0,473.7 324.3,472.8 324.5,473.1 324.8,473.0 325.1,473.2 325.4,472.7 325.7,473.6 326.0,473.9 326.3,473.8 326.6,473.8 326.9,475.0 327.2,474.3 327.5,473.7 327.8,473.7 328.1,474.6 328.4,474.5 328.7,474.1 329.0,474.1 329.2,473.6 329.5,474.1 329.8,474.6 330.1,474.4 330.4,474.4 330.7,473.4 331.0,473.6 331.3,473.5 331.6,473.9 331.9,474.6 332.2,474.6 332.5,473.9 332.8,474.9 333.1,475.3 333.4,475.0 333.7,474.0 334.0,473.7 334.2,473.4 334.5,475.0 334.8,474.2 335.1,474.8 335.4,474.3 335.7,474.4 336.0,475.4 336.3,474.1 336.6,473.3 336.9,473.6 337.2,473.5 337.5,473.1 337.8,474.3 338.1,474.6 338.4,473.6 338.7,474.2 338.9,475.0 339.2,474.3 339.5,474.8 339.8,475.3 340.1,474.5 340.4,473.8 340.7,474.5 341.0,474.6 341.3,475.3 341.6,473.6 341.9,474.6 342.2,473.5 342.5,474.2 342.8,473.7 343.1,474.6 343.4,475.4 343.7,475.0 343.9,474.7 344.2,474.2 344.5,474.6 344.8,475.5 345.1,475.5 345.4,474.8 345.7,475.3 346.0,474.6 346.3,475.4 346.6,475.4 346.9,476.4 347.2,475.7 347.5,475.7 347.8,474.8 348.1,475.5 348.4,474.6 348.6,474.9 348.9,473.9 349.2,476.7 349.5,475.2 349.8,475.9 350.1,476.0 350.4,474.8 350.7,475.4 351.0,475.8 351.3,474.2 351.6,475.9 351.9,475.8 352.2,475.8 352.5,475.5 352.8,474.0 353.1,475.3 353.4,475.3 353.6,475.6 353.9,476.0 354.2,477.3 354.5,475.9 354.8,475.5 355.1,475.0 355.4,474.8 355.7,475.6 356.0,476.3 356.3,475.6 356.6,476.2 356.9,475.7 357.2,477.0 357.5,474.8 357.8,475.7 358.1,475.2 358.3,475.0 358.6,474.4 358.9,475.1 359.2,475.4 359.5,475.6 359.8,475.0 360.1,475.4 360.4,476.4 360.7,476.6 361.0,475.5 361.3,475.2 361.6,474.7 361.9,476.9 362.2,476.2 362.5,476.4 362.8,476.9 363.1,477.4 363.3,476.8 363.6,475.4 363.9,476.0 364.2,476.2 364.5,476.3 364.8,476.3 365.1,476.3 365.4,475.7 365.7,475.9 366.0,475.7 366.3,474.7 366.6,474.8 366.9,475.7 367.2,476.6 367.5,476.3 367.8,475.9 368.0,474.6 368.3,476.0 368.6,476.4 368.9,476.3 369.2,475.9 369.5,475.9 369.8,476.1 370.1,477.4 370.4,476.1 370.7,475.5 371.0,475.8 371.3,476.5 371.6,476.6 371.9,476.3 372.2,476.2 372.5,477.1 372.8,477.0 373.0,476.8 373.3,477.2 373.6,476.3 373.9,475.7 374.2,474.6 374.5,474.9 374.8,474.9 375.1,475.2 375.4,476.2 375.7,476.0 376.0,476.2 376.3,476.7 376.6,476.6 376.9,475.9 377.2,476.3 377.5,476.9 377.7,476.4 378.0,476.0 378.3,474.9 378.6,476.7 378.9,476.6 379.2,476.9 379.5,476.4 379.8,476.5 380.1,476.3 380.4,476.2 380.7,476.4 381.0,475.9 381.3,477.2 381.6,477.1 381.9,477.4 382.2,476.7 382.5,476.5 382.7,477.3 383.0,477.0 383.3,476.6 383.6,476.2 383.9,476.4 384.2,475.4 384.5,475.9 384.8,476.8 385.1,476.2 385.4,476.9 385.7,476.1 386.0,476.1 386.3,476.4 386.6,476.8 386.9,475.6 387.2,475.7 387.4,476.4 387.7,476.1 388.0,477.0 388.3,476.3 388.6,476.1 388.9,474.6 389.2,474.9 389.5,475.2 389.8,476.8 390.1,476.2 390.4,476.4 390.7,477.0 391.0,476.2 391.3,476.0 391.6,476.4 391.9,476.9 392.2,476.1 392.4,476.8 392.7,476.3 393.0,476.3 393.3,476.3 393.6,476.3 393.9,475.7 394.2,476.9 394.5,476.3 394.8,476.8 395.1,476.9 395.4,477.5 395.7,476.7 396.0,477.1 396.3,476.6 396.6,477.2 396.9,477.0 397.1,477.2 397.4,476.7 397.7,476.8 398.0,476.1 398.3,477.7 398.6,476.6 398.9,476.9 399.2,477.4 399.5,476.3 399.8,476.7 400.1,477.2 400.4,476.7 400.7,476.9 401.0,476.7 401.3,477.9 401.6,477.2 401.9,477.0 402.1,476.3 402.4,476.0 402.7,476.8 403.0,477.0 403.3,476.3 403.6,477.0 403.9,477.6 404.2,477.7 404.5,477.7 404.8,477.3 405.1,477.0 405.4,477.0 405.7,476.9 406.0,476.8 406.3,476.8 406.6,476.7 406.8,477.3 407.1,476.1 407.4,477.6 407.7,477.3 408.0,477.0 408.3,476.8 408.6,477.4 408.9,476.7 409.2,475.9 409.5,476.6 409.8,476.7 410.1,477.8 410.4,477.7 410.7,475.0 411.0,476.1 411.3,476.9 411.6,477.1 411.8,476.9 412.1,477.6 412.4,477.7 412.7,477.9 413.0,478.0 413.3,477.3 413.6,477.7 413.9,476.6 414.2,476.9 414.5,476.7 414.8,477.9 415.1,478.7 415.4,477.7 415.7,476.7 416.0,476.5 416.3,476.6 416.5,476.7 416.8,477.8 417.1,477.9 417.4,476.2 417.7,477.4 418.0,476.6 418.3,476.7 418.6,478.1 418.9,477.4 419.2,476.8 419.5,476.4 419.8,476.9 420.1,477.3 420.4,477.0 420.7,476.0 421.0,475.6 421.3,477.2 421.5,476.8 421.8,478.0 422.1,477.6 422.4,477.4 422.7,477.5 423.0,477.5 423.3,477.2 423.6,477.3 423.9,477.0 424.2,476.7 424.5,476.6 424.8,477.0 425.1,477.1 425.4,476.6 425.7,476.4 426.0,477.3 426.2,477.9 426.5,478.1 426.8,478.3 427.1,477.7 427.4,477.0 427.7,476.7 428.0,477.0 428.3,477.2 428.6,477.5 428.9,477.6 429.2,476.5 429.5,476.7 429.8,476.4 430.1,478.1 430.4,478.3 430.7,477.8 431.0,477.2 431.2,477.8 431.5,477.8 431.8,478.1 432.1,477.5 432.4,477.3 432.7,477.5 433.0,478.3 433.3,479.2 433.6,478.1 433.9,477.8 434.2,477.4 434.5,476.4 434.8,476.8 435.1,477.0 435.4,476.7 435.7,477.3 435.9,477.9 436.2,477.9 436.5,478.0 436.8,477.7 437.1,477.4 437.4,477.5 437.7,477.0 438.0,477.5 438.3,477.5 438.6,476.9 438.9,476.3 439.2,477.6 439.5,476.9 439.8,478.2 440.1,477.9 440.4,477.5 440.7,477.3 440.9,478.2 441.2,477.6 441.5,477.0 441.8,477.3 442.1,477.6 442.4,477.2 442.7,477.2 443.0,477.2 443.3,477.3 443.6,477.3 443.9,477.0 444.2,478.0 444.5,476.2 444.8,476.5 445.1,475.7 445.4,477.5 445.6,477.7 445.9,479.3 446.2,477.7 446.5,477.6 446.8,478.7 447.1,478.5 447.4,477.0 447.7,477.9 448.0,477.4 448.3,476.2 448.6,477.2 448.9,477.1 449.2,477.0 449.5,477.5 449.8,477.3 450.1,477.3 450.4,478.4 450.6,477.6 450.9,477.0 451.2,477.8 451.5,477.1 451.8,477.5 452.1,476.9 452.4,477.3 452.7,477.9 453.0,478.0 453.3,477.6 453.6,477.3 453.9,477.2 454.2,476.2 454.5,476.8 454.8,478.0 455.1,478.9 455.3,478.6 455.6,478.5 455.9,477.5 456.2,477.6 456.5,477.0 456.8,477.2 457.1,478.2 457.4,477.6 457.7,478.1 458.0,477.6 458.3,476.7 458.6,477.1 458.9,477.4 459.2,476.8 459.5,477.3 459.8,477.4 460.1,477.6 460.3,477.9 460.6,477.9 460.9,478.3 461.2,477.5 461.5,477.4 461.8,478.0 462.1,477.9 462.4,477.5 462.7,478.3 463.0,477.7 463.3,477.0 463.6,478.4 463.9,477.2 464.2,478.9 464.5,477.2 464.8,478.0 465.0,477.3 465.3,477.6 465.6,476.7 465.9,477.5 466.2,477.8 466.5,477.6 466.8,477.6 467.1,477.5 467.4,476.5 467.7,477.1 468.0,476.4 468.3,477.2 468.6,477.6 468.9,478.3 469.2,477.3 469.5,476.9 469.8,477.8 470.0,476.9 470.3,478.1 470.6,477.3 470.9,477.5 471.2,478.2 471.5,477.5 471.8,477.9 472.1,476.4 472.4,477.5 472.7,477.6 473.0,477.8 473.3,477.3 473.6,477.6 473.9,477.2 474.2,476.1 474.5,477.0 474.7,477.3 475.0,478.7 475.3,477.0 475.6,477.1 475.9,477.4 476.2,477.8 476.5,477.1 476.8,477.2 477.1,477.3 477.4,478.6 477.7,477.8 478.0,477.6 478.3,477.0 478.6,477.4 478.9,477.5 479.2,477.5 479.5,477.2 479.7,478.0 480.0,477.5 480.3,477.1 480.6,478.7 480.9,478.6 481.2,478.4 481.5,477.6 481.8,477.2 482.1,477.2 482.4,477.6 482.7,477.0 483.0,476.9 483.3,477.1 483.6,476.2 483.9,476.4 484.2,476.4 484.4,477.3 484.7,478.5 485.0,477.5 485.3,478.0 485.6,476.9 485.9,478.0 486.2,477.7 486.5,478.2 486.8,478.2 487.1,478.4 487.4,478.4 487.7,477.3 488.0,477.2 488.3,477.5 488.6,476.7 488.9,476.7 489.2,477.7 489.4,477.8 489.7,478.4 490.0,478.2 490.3,477.8 490.6,478.1 490.9,478.6 491.2,477.9 491.5,478.1 491.8,477.4 492.1,477.7 492.4,477.6 492.7,476.8 493.0,478.1 493.3,478.7 493.6,477.5 493.9,477.4 494.1,477.8 494.4,477.6 494.7,478.1 495.0,477.5 495.3,477.3 495.6,477.2 495.9,476.8 496.2,476.4 496.5,477.7 496.8,478.0 497.1,477.0 497.4,478.3 497.7,477.9 498.0,478.4 498.3,478.7 498.6,475.6 498.9,476.0 499.1,477.4 499.4,477.7 499.7,477.5 500.0,478.2 500.3,478.0 500.6,476.6 500.9,477.1 501.2,477.6 501.5,478.1 501.8,476.8 502.1,477.9 502.4,477.3 502.7,476.7 503.0,477.5 503.3,477.1 503.6,477.2 503.8,477.9 504.1,477.6 504.4,477.8 504.7,477.9 505.0,477.8 505.3,478.6 505.6,477.3 505.9,477.6 506.2,478.1 506.5,478.3 506.8,478.6 507.1,478.6 507.4,477.8 507.7,477.2 508.0,477.3 508.3,477.9 508.6,477.6 508.8,477.5 509.1,478.5 509.4,478.9 509.7,478.7 510.0,479.8 510.3,478.5 510.6,478.1 510.9,478.4 511.2,479.5 511.5,478.9 511.8,477.9 512.1,478.3 512.4,478.2 512.7,477.9 513.0,477.6 513.3,477.8 513.5,477.9 513.8,477.9 514.1,478.1 514.4,476.8 514.7,477.5 515.0,477.0 515.3,476.8 515.6,476.3 515.9,478.0 516.2,477.3 516.5,477.6 516.8,478.3 517.1,477.4 517.4,477.4 517.7,476.2 518.0,477.3 518.3,477.7 518.5,478.2 518.8,477.6 519.1,477.6 519.4,477.7 519.7,477.2 520.0,477.7 520.3,478.9 520.6,477.3 520.9,477.7 521.2,477.8 521.5,478.5 521.8,478.2 522.1,478.1 522.4,478.4 522.7,477.9 523.0,477.7 523.2,476.9 523.5,477.9 523.8,478.1 524.1,478.9 524.4,477.9 524.7,477.3 525.0,477.7 525.3,478.0 525.6,478.4 525.9,479.2 526.2,478.7 526.5,478.0 526.8,477.0 527.1,476.8 527.4,477.7 527.7,476.6 528.0,478.2 528.2,478.1 528.5,478.3 528.8,477.9 529.1,477.2 529.4,477.8 529.7,477.8 530.0,477.6 530.3,478.6 530.6,477.4 530.9,477.0 531.2,478.2 531.5,477.0 531.8,475.5 532.1,476.9 532.4,477.8 532.7,478.3 532.9,479.7 533.2,479.5 533.5,479.6 533.8,478.8 534.1,478.8 534.4,479.1 534.7,478.8 535.0,478.4 535.3,477.6 535.6,477.5 535.9,477.9 536.2,478.7 536.5,478.3 536.8,478.3 537.1,477.5 537.4,478.6 537.7,477.5 537.9,478.1 538.2,478.8 538.5,477.5 538.8,477.7 539.1,478.7 539.4,479.1 539.7,479.0 540.0,477.5 540.3,478.5 540.6,477.2 540.9,478.7 541.2,477.6 541.5,477.6 541.8,478.5 542.1,478.9 542.4,477.7 542.6,478.8 542.9,477.8 543.2,477.4 543.5,478.9 543.8,478.7 544.1,478.5 544.4,478.5 544.7,477.6 545.0,479.0 545.3,479.0 545.6,478.7 545.9,478.5 546.2,477.4 546.5,478.2 546.8,478.5 547.1,477.1 547.4,477.7 547.6,478.2 547.9,479.5 548.2,479.0 548.5,477.9 548.8,477.4 549.1,477.6 549.4,478.4 549.7,478.7 550.0,478.7 550.3,478.4 550.6,478.2 550.9,478.5 551.2,478.6 551.5,478.6 551.8,479.3 552.1,478.7 552.3,478.8 552.6,478.5 552.9,478.8 553.2,479.4 553.5,478.9 553.8,478.8 554.1,478.5 554.4,478.9 554.7,478.8 555.0,479.0 555.3,479.5 555.6,479.0 555.9,477.7 556.2,478.4 556.5,477.9 556.8,478.8 557.0,479.8 557.3,479.2 557.6,478.2 557.9,478.3 558.2,479.1 558.5,478.5 558.8,479.7 559.1,478.9 559.4,480.2 559.7,478.3 560.0,479.3 560.3,478.0 560.6,479.2 560.9,478.4 561.2,479.2 561.5,478.3 561.8,477.9 562.0,478.0 562.3,478.2 562.6,478.1 562.9,479.2 563.2,479.6 563.5,478.3 563.8,478.9 564.1,477.9 564.4,478.6 564.7,479.0 565.0,478.4 565.3,478.6 565.6,479.3 565.9,478.7 566.2,479.8 566.5,479.2 566.7,479.5 567.0,479.3 567.3,478.3 567.6,478.5 567.9,478.3 568.2,479.2 568.5,479.5 568.8,479.4 569.1,478.0 569.4,478.0 569.7,478.2 570.0,479.0 570.3,479.3 570.6,479.8 570.9,478.0 571.2,478.0 571.5,479.7 571.7,478.1 572.0,479.1 572.3,478.8 572.6,479.7 572.9,480.1 573.2,479.4 573.5,479.9 573.8,478.6 574.1,478.4 574.4,479.5 574.7,480.0 575.0,480.2 575.3,479.0 575.6,478.9 575.9,478.7 576.2,479.4 576.4,479.1 576.7,479.3 577.0,479.0 577.3,478.7 577.6,478.7 577.9,479.1 578.2,478.5 578.5,479.7 578.8,478.9 579.1,479.2 579.4,479.6 579.7,480.0 580.0,479.9 580.3,479.1 580.6,478.7 580.9,478.3 581.2,479.2 581.4,479.0 581.7,478.5 582.0,480.2 582.3,478.4 582.6,479.3 582.9,479.6 583.2,479.9 583.5,480.4 583.8,479.5 584.1,479.3 584.4,479.8 584.7,479.1 585.0,479.7 585.3,479.0 585.6,479.2 585.9,479.4 586.1,479.3 586.4,479.5 586.7,479.2 587.0,479.1 587.3,478.5 587.6,478.5 587.9,477.7 588.2,477.9 588.5,478.7 588.8,478.8 589.1,478.0 589.4,478.9 589.7,478.8 590.0,480.7 590.3,478.9 590.6,480.2 590.9,479.1 591.1,479.8 591.4,479.6 591.7,479.2 592.0,479.4 592.3,479.0 592.6,478.8 592.9,478.7 593.2,480.7 593.5,480.9 593.8,480.5 594.1,480.2 594.4,480.1 594.7,480.6 595.0,481.2 595.3,481.0 595.6,480.7 595.8,480.1 596.1,480.5 596.4,480.7 596.7,479.9 597.0,479.6 597.3,480.2 597.6,479.4 597.9,479.6 598.2,480.1 598.5,479.4 598.8,479.0 599.1,480.1 599.4,479.7 599.7,478.5 600.0,479.0 600.3,479.1 600.6,479.7 600.8,479.5 601.1,479.8 601.4,480.3 601.7,479.3 602.0,478.4 602.3,479.8 602.6,480.3 602.9,481.3 603.2,480.9 603.5,479.3 603.8,478.6 604.1,479.5 604.4,479.6 604.7,479.5 605.0,478.7 605.3,479.1 605.5,478.7 605.8,479.1 606.1,479.0 606.4,480.8 606.7,481.0 607.0,479.2 607.3,478.5 607.6,478.8 607.9,479.5 608.2,479.6 608.5,479.6 608.8,479.7 609.1,479.5 609.4,478.9 609.7,480.4 610.0,479.6 610.3,479.4 610.5,479.5 610.8,479.3 611.1,479.8 611.4,480.4 611.7,479.0 612.0,480.1 612.3,480.0 612.6,480.2 612.9,479.3 613.2,480.0 613.5,479.3 613.8,479.0 614.1,479.1 614.4,479.5 614.7,479.5 615.0,479.4 615.2,478.5 615.5,479.6 615.8,480.2 616.1,480.0 616.4,479.4 616.7,479.9 617.0,479.8 617.3,480.6 617.6,479.8 617.9,478.6 618.2,479.3 618.5,480.4 618.8,479.5 619.1,478.6 619.4,479.4 619.7,479.9 620.0,479.9 620.2,479.9 620.5,479.8 620.8,479.8 621.1,480.2 621.4,479.7 621.7,480.0 622.0,479.6 622.3,479.9 622.6,480.2 622.9,480.3 623.2,480.1 623.5,480.3 623.8,480.2 624.1,480.1 624.4,479.6 624.7,480.6 624.9,481.0 625.2,480.0 625.5,479.3 625.8,478.6 626.1,479.7 626.4,478.8 626.7,479.7 627.0,480.1 627.3,481.3 627.6,480.7 627.9,480.1 628.2,479.6 628.5,479.9 628.8,479.5 629.1,479.6 629.4,480.5 629.7,479.4 629.9,480.0 630.2,480.2 630.5,480.3 630.8,480.1 631.1,480.5 631.4,480.6 631.7,480.7 632.0,480.5 632.3,479.9 632.6,478.5 632.9,479.8 633.2,480.6 633.5,480.8 633.8,480.9 634.1,481.0 634.4,480.9 634.6,480.8 634.9,479.7 635.2,478.5 635.5,478.9 635.8,478.9 636.1,480.5 636.4,480.0 636.7,480.6 637.0,480.1 637.3,479.0 637.6,480.3 637.9,479.8 638.2,478.9 638.5,478.9 638.8,480.4 639.1,479.7 639.4,479.8 639.6,480.3 639.9,480.1 640.2,479.2 640.5,480.2 640.8,479.7 641.1,480.0 641.4,480.2 641.7,480.5 642.0,480.6 642.3,481.3 642.6,479.5 642.9,480.0 643.2,480.6 643.5,479.1 643.8,479.5 644.1,479.2 644.3,480.1 644.6,480.1 644.9,480.6 645.2,481.0 645.5,479.9 645.8,479.3 646.1,479.5 646.4,479.3 646.7,479.4 647.0,480.8 647.3,480.7 647.6,480.3 647.9,479.1 648.2,479.9 648.5,480.9 648.8,480.5 649.1,479.8 649.3,480.4 649.6,480.6 649.9,481.3 650.2,481.0 650.5,481.2 650.8,480.2 651.1,480.4 651.4,480.2 651.7,480.7 652.0,481.4 652.3,480.5 652.6,480.9 652.9,479.9 653.2,480.0"/><polyline stroke="#ff7f0e" points="77.0,22.7 77.3,42.9 77.6,64.9 77.9,99.6 78.2,134.7 78.5,170.6 78.8,200.4 79.1,227.3 79.4,254.0 79.7,274.3 80.0,277.1 80.3,279.2 80.6,281.6 80.9,284.4 81.2,287.8 81.5,289.5 81.8,295.8 82.0,299.5 82.3,304.3 82.6,306.2 82.9,309.9 83.2,314.7 83.5,318.7 83.8,320.4 84.1,322.3 84.4,325.3 84.7,327.0 85.0,329.0 85.3,330.2 85.6,333.5 85.9,335.5 86.2,339.8 86.5,340.6 86.7,341.0 87.0,336.3 87.3,337.4 87.6,339.2 87.9,342.6 88.2,346.3 88.5,343.8 88.8,348.4 89.1,347.0 89.4,349.5 89.7,347.8 90.0,349.2 90.3,350.2 90.6,349.8 90.9,347.8 91.2,354.6 91.5,358.5 91.7,362.6 92.0,361.1 92.3,360.8 92.6,359.1 92.9,361.4 93.2,363.7 93.5,368.1 93.8,369.7 94.1,369.8 94.4,369.7 94.7,367.9 95.0,366.0 95.3,365.4 95.6,367.7 95.9,370.8 96.2,371.8 96.4,371.6 96.7,371.8 97.0,371.5 97.3,373.8 97.6,376.4 97.9,376.6 98.2,376.5 98.5,371.1 98.8,373.7 99.1,370.9 99.4,375.5 99.7,376.0 100.0,380.8 100.3,378.4 100.6,377.0 100.9,377.0 101.2,379.9 101.4,377.0 101.7,379.7 102.0,380.7 102.3,382.2 102.6,383.3 102.9,380.5 103.2,382.4 103.5,379.4 103.8,382.8 104.1,380.6 104.4,381.3 104.7,383.1 105.0,382.6 105.3,381.5 105.6,380.2 105.9,382.1 106.1,383.9 106.4,382.9 106.7,387.9 107.0,387.0 107.3,387.1 107.6,383.7 107.9,384.2 108.2,385.0 108.5,386.0 108.8,386.4 109.1,389.0 109.4,386.1 109.7,387.9 110.0,386.6 110.3,395.6 110.6,392.5 110.9,392.9 111.1,391.8 111.4,394.5 111.7,396.4 112.0,392.0 112.3,390.6 112.6,389.5 112.9,387.5 113.2,390.9 113.5,387.3 113.8,390.9 114.1,386.0 114.4,386.5 114.7,390.5 115.0,397.0 115.3,396.9 115.6,394.0 115.8,392.3 116.1,399.1 116.4,399.6 116.7,400.7 117.0,393.9 117.3,393.2 117.6,394.9 117.9,390.6 118.2,395.0 118.5,392.7 118.8,393.5 119.1,395.5 119.4,396.2 119.7,396.8 120.0,394.9 120.3,399.0 120.6,399.8 120.8,399.3 121.1,399.1 121.4,399.0 121.7,396.5 122.0,395.6 122.3,399.4 122.6,404.4 122.9,407.6 123.2,402.7 123.5,398.5 123.8,393.7 124.1,399.2 124.4,400.5 124.7,399.3 125.0,400.2 125.3,402.1 125.5,402.4 125.8,397.7 126.1,403.2 126.4,403.1 126.7,403.1 127.0,401.5 127.3,402.3 127.6,403.4 127.9,402.7 128.2,396.6 128.5,398.4 128.8,401.4 129.1,404.2 129.4,408.8 129.7,409.5 130.0,410.4 130.3,409.9 130.5,405.9 130.8,405.7 131.1,402.2 131.4,403.8 131.7,407.6 132.0,410.9 132.3,403.1 132.6,404.9 132.9,406.2 133.2,405.4 133.5,399.9 133.8,398.3 134.1,400.3 134.4,404.6 134.7,409.9 135.0,409.5 135.2,408.8 135.5,402.4 135.8,408.8 136.1,399.5 136.4,400.8 136.7,400.5 137.0,400.9 137.3,407.8 137.6,400.2 137.9,408.2 138.2,406.9 138.5,407.1 138.8,402.9 139.1,401.3 139.4,404.8 139.7,405.5 140.0,405.4 140.2,409.1 140.5,406.8 140.8,408.3 141.1,402.5 141.4,403.5 141.7,404.6 142.0,402.7 142.3,402.0 142.6,403.2 142.9,401.9 143.2,403.7 143.5,403.7 143.8,406.0 144.1,409.2 144.4,409.3 144.7,414.2 144.9,414.1 145.2,411.2 145.5,406.2 145.8,405.7 146.1,407.5 146.4,405.9 146.7,407.4 147.0,408.6 147.3,402.1 147.6,411.0 147.9,408.3 148.2,407.1 148.5,409.9 148.8,412.5 149.1,417.6 149.4,411.3 149.7,409.9 149.9,409.5 150.2,411.2 150.5,415.3 150.8,410.5 151.1,413.9 151.4,406.4 151.7,407.7 152.0,404.8 152.3,409.2 152.6,411.2 152.9,412.8 153.2,409.8 153.5,408.4 153.8,408.1 154.1,408.1 154.4,405.5 154.6,412.2 154.9,409.3 155.2,408.7 155.5,412.3 155.8,415.3 156.1,418.0 156.4,413.9 156.7,413.5 157.0,412.8 157.3,411.5 157.6,413.6 157.9,410.2 158.2,414.0 158.5,411.1 158.8,416.2 159.1,417.8 159.4,417.8 159.6,418.0 159.9,415.0 160.2,414.2 160.5,418.7 160.8,419.1 161.1,415.3 161.4,420.1 161.7,416.6 162.0,419.0 162.3,416.6 162.6,416.2 162.9,417.8 163.2,417.6 163.5,415.3 163.8,422.2 164.1,423.8 164.3,418.0 164.6,413.3 164.9,414.4 165.2,417.7 165.5,421.6 165.8,427.1 166.1,429.0 166.4,422.6 166.7,420.1 167.0,415.4 167.3,422.1 167.6,421.8 167.9,424.1 168.2,424.0 168.5,422.9 168.8,423.9 169.1,422.7 169.3,429.5 169.6,421.5 169.9,418.5 170.2,413.8 170.5,421.1 170.8,423.3 171.1,426.5 171.4,421.7 171.7,420.8 172.0,420.4 172.3,423.4 172.6,423.1 172.9,414.9 173.2,418.6 173.5,422.5 173.8,425.4 174.0,422.5 174.3,425.2 174.6,417.5 174.9,422.8 175.2,427.3 175.5,424.2 175.8,426.3 176.1,421.8 176.4,424.3 176.7,423.7 177.0,423.5 177.3,426.3 177.6,423.0 177.9,426.1 178.2,417.7 178.5,423.5 178.8,421.1 179.0,422.1 179.3,421.9 179.6,423.9 179.9,423.8 180.2,427.0 180.5,422.1 180.8,415.2 181.1,417.8 181.4,418.9 181.7,421.5 182.0,423.3 182.3,427.9 182.6,431.4 182.9,432.0 183.2,428.1 183.5,426.2 183.7,423.4 184.0,426.2 184.3,418.3 184.6,425.9 184.9,426.8 185.2,428.6 185.5,422.9 185.8,422.7 186.1,422.3 186.4,420.9 186.7,423.9 187.0,424.0 187.3,424.9 187.6,429.7 187.9,427.8 188.2,426.6 188.5,422.7 188.7,426.9 189.0,426.5 189.3,430.4 189.6,429.1 189.9,430.9 190.2,425.3 190.5,427.1 190.8,421.5 191.1,424.6 191.4,424.4 191.7,427.4 192.0,428.9 192.3,429.1 192.6,429.4 192.9,424.8 193.2,427.8 193.4,428.7 193.7,430.5 194.0,425.5 194.3,423.6 194.6,425.2 194.9,428.1 195.2,425.8 195.5,423.3 195.8,424.0 196.1,434.1 196.4,433.6 196.7,429.4 197.0,425.4 197.3,426.1 197.6,420.7 197.9,427.8 198.2,428.5 198.4,429.4 198.7,425.5 199.0,425.8 199.3,428.2 199.6,427.2 199.9,429.7 200.2,426.9 200.5,433.8 200.8,432.5 201.1,434.8 201.4,432.7 201.7,430.8 202.0,431.1 202.3,434.0 202.6,434.1 202.9,436.0 203.1,430.8 203.4,432.0 203.7,432.4 204.0,431.9 204.3,432.7 204.6,426.2 204.9,426.4 205.2,418.7 205.5,428.3 205.8,435.5 206.1,434.5 206.4,432.4 206.7,431.4 207.0,430.1 207.3,431.3 207.6,433.9 207.9,440.0 208.1,437.9 208.4,434.2 208.7,429.7 209.0,430.0 209.3,430.4 209.6,433.9 209.9,435.2 210.2,430.5 210.5,434.3 210.8,434.3 211.1,436.8 211.4,434.6 211.7,432.6 212.0,426.3 212.3,431.4 212.6,433.2 212.8,440.9 213.1,438.7 213.4,439.1 213.7,431.6 214.0,435.7 214.3,438.0 214.6,436.6 214.9,435.7 215.2,435.5 215.5,433.1 215.8,435.6 216.1,433.8 216.4,439.9 216.7,437.0 217.0,437.0 217.3,435.0 217.6,434.2 217.8,438.2 218.1,437.8 218.4,434.9 218.7,431.6 219.0,430.1 219.3,434.1 219.6,433.6 219.9,439.0 220.2,436.9 220.5,439.6 220.8,439.1 221.1,438.1 221.4,437.7 221.7,436.7 222.0,439.1 222.3,437.6 222.5,441.2 222.8,440.9 223.1,432.9 223.4,434.9 223.7,435.7 224.0,438.8 224.3,441.1 224.6,444.1 224.9,445.7 225.2,446.4 225.5,444.6 225.8,441.3 226.1,440.3 226.4,436.4 226.7,440.9 227.0,438.7 227.3,438.9 227.5,432.1 227.8,433.8 228.1,436.4 228.4,440.8 228.7,441.4 229.0,444.6 229.3,443.7 229.6,442.2 229.9,437.0 230.2,435.4 230.5,435.7 230.8,436.8 231.1,438.3 231.4,440.0 231.7,442.3 232.0,439.3 232.2,437.0 232.5,432.0 232.8,429.8 233.1,430.7 233.4,433.8 233.7,434.6 234.0,438.2 234.3,442.4 234.6,440.6 234.9,440.1 235.2,434.8 235.5,435.3 235.8,438.8 236.1,439.8 236.4,444.4 236.7,439.3 237.0,443.4 237.2,445.6 237.5,446.2 237.8,442.3 238.1,435.4 238.4,439.8 238.7,436.0 239.0,439.1 239.3,439.6 239.6,441.1 239.9,435.5 240.2,432.6 240.5,433.1 240.8,439.5 241.1,439.7 241.4,438.2 241.7,438.0 241.9,440.1 242.2,444.1 242.5,443.0 242.8,438.7 243.1,444.2 243.4,440.4 243.7,438.4 244.0,439.3 244.3,439.9 244.6,445.9 244.9,443.4 245.2,444.8 245.5,439.2 245.8,440.2 246.1,437.6 246.4,438.1 246.7,435.4 246.9,437.1 247.2,440.1 247.5,441.5 247.8,434.9 248.1,434.4 248.4,438.7 248.7,438.8 249.0,443.1 249.3,438.0 249.6,441.1 249.9,440.2 250.2,444.8 250.5,444.8 250.8,441.8 251.1,436.3 251.4,439.1 251.6,439.5 251.9,442.5 252.2,439.8 252.5,440.6 252.8,441.7 253.1,443.4 253.4,436.4 253.7,441.8 254.0,438.0 254.3,442.6 254.6,440.2 254.9,439.3 255.2,442.9 255.5,444.0 255.8,441.2 256.1,439.5 256.4,438.9 256.6,442.7 256.9,443.0 257.2,443.0 257.5,444.4 257.8,442.1 258.1,446.8 258.4,443.5 258.7,443.7 259.0,440.8 259.3,444.2 259.6,449.0 259.9,449.9 260.2,449.2 260.5,446.8 260.8,444.6 261.1,443.6 261.3,442.4 261.6,441.5 261.9,448.7 262.2,449.9 262.5,446.1 262.8,441.4 263.1,437.9 263.4,437.0 263.7,436.9 264.0,440.4 264.3,439.8 264.6,436.9 264.9,438.4 265.2,439.4 265.5,443.6 265.8,442.0 266.1,440.2 266.3,442.2 266.6,438.9 266.9,430.9 267.2,439.8 267.5,441.5 267.8,444.9 268.1,448.5 268.4,451.2 268.7,447.7 269.0,444.0 269.3,444.5 269.6,444.1 269.9,447.7 270.2,448.7 270.5,448.0 270.8,442.1 271.0,447.2 271.3,449.9 271.6,446.4 271.9,442.6 272.2,440.6 272.5,442.8 272.8,443.5 273.1,441.4 273.4,445.0 273.7,447.8 274.0,447.4 274.3,442.6 274.6,440.6 274.9,438.5 275.2,445.8 275.5,443.7 275.8,444.3 276.0,441.6 276.3,445.3 276.6,448.3 276.9,448.3 277.2,440.7 277.5,436.3 277.8,437.2 278.1,438.6 278.4,444.1 278.7,444.7 279.0,451.5 279.3,450.4 279.6,448.6 279.9,444.0 280.2,441.4 280.5,443.8 280.7,441.7 281.0,438.7 281.3,437.6 281.6,441.6 281.9,446.4 282.2,450.8 282.5,450.7 282.8,447.5 283.1,446.1 283.4,445.1 283.7,444.0 284.0,445.4 284.3,449.0 284.6,446.5 284.9,451.6 285.2,447.3 285.5,445.5 285.7,442.7 286.0,439.7 286.3,445.1 286.6,449.1 286.9,453.8 287.2,450.3 287.5,444.5 287.8,442.6 288.1,442.1 288.4,448.5 288.7,447.1 289.0,447.5 289.3,442.3 289.6,446.8 289.9,444.7 290.2,446.0 290.4,446.1 290.7,443.9 291.0,445.7 291.3,443.2 291.6,452.2 291.9,452.2 292.2,445.7 292.5,446.4 292.8,447.7 293.1,450.2 293.4,454.5 293.7,451.5 294.0,453.2 294.3,449.8 294.6,452.2 294.9,453.9 295.2,455.6 295.4,451.5 295.7,447.1 296.0,443.8 296.3,446.2 296.6,448.0 296.9,448.5 297.2,449.2 297.5,446.9 297.8,444.6 298.1,451.9 298.4,455.6 298.7,451.2 299.0,447.4 299.3,440.4 299.6,443.2 299.9,443.0 300.1,449.5 300.4,448.4 300.7,452.3 301.0,446.9 301.3,445.4 301.6,444.2 301.9,448.4 302.2,447.0 302.5,447.3 302.8,444.1 303.1,448.4 303.4,447.2 303.7,448.3 304.0,447.6 304.3,450.4 304.6,450.5 304.9,445.1 305.1,447.7 305.4,448.8 305.7,444.0 306.0,446.5 306.3,444.1 306.6,446.5 306.9,447.4 307.2,447.3 307.5,443.6 307.8,442.0 308.1,445.1 308.4,449.2 308.7,447.7 309.0,448.4 309.3,447.3 309.6,448.4 309.8,447.3 310.1,448.8 310.4,449.6 310.7,447.9 311.0,448.6 311.3,447.5 311.6,450.0 311.9,451.3 312.2,445.9 312.5,445.6 312.8,444.8 313.1,442.5 313.4,445.9 313.7,441.1 314.0,446.7 314.3,450.4 314.6,450.3 314.8,451.5 315.1,447.0 315.4,447.9 315.7,451.0 316.0,450.2 316.3,450.9 316.6,451.0 316.9,453.6 317.2,450.4 317.5,449.0 317.8,446.5 318.1,447.6 318.4,446.3 318.7,450.1 319.0,449.8 319.3,451.6 319.5,449.9 319.8,450.5 320.1,447.2 320.4,449.2 320.7,448.7 321.0,450.5 321.3,446.0 321.6,444.4 321.9,444.3 322.2,446.4 322.5,446.0 322.8,447.5 323.1,447.8 323.4,448.1 323.7,452.4 324.0,451.9 324.3,454.0 324.5,449.8 324.8,449.0 325.1,450.4 325.4,453.0 325.7,453.2 326.0,450.1 326.3,447.8 326.6,444.2 326.9,446.3 327.2,444.9 327.5,449.9 327.8,446.5 328.1,446.0 328.4,443.3 328.7,442.5 329.0,444.6 329.2,449.1 329.5,449.0 329.8,450.2 330.1,450.6 330.4,447.7 330.7,443.3 331.0,444.1 331.3,448.6 331.6,451.6 331.9,451.3 332.2,448.6 332.5,448.0 332.8,445.1 333.1,445.2 333.4,443.6 333.7,440.9 334.0,443.4 334.2,446.7 334.5,446.8 334.8,449.6 335.1,448.1 335.4,453.9 335.7,453.8 336.0,452.2 336.3,450.9 336.6,446.1 336.9,451.5 337.2,450.4 337.5,451.2 337.8,443.9 338.1,442.5 338.4,441.0 338.7,447.9 338.9,446.7 339.2,448.7 339.5,447.7 339.8,450.2 340.1,451.2 340.4,449.8 340.7,451.2 341.0,448.8 341.3,450.5 341.6,446.6 341.9,446.5 342.2,445.5 342.5,447.5 342.8,448.3 343.1,453.1 343.4,449.9 343.7,447.2 343.9,442.8 344.2,448.9 344.5,448.7 344.8,452.1 345.1,448.6 345.4,447.5 345.7,446.3 346.0,445.1 346.3,449.5 346.6,450.9 346.9,450.6 347.2,452.4 347.5,453.9 347.8,453.2 348.1,451.7 348.4,453.0 348.6,454.4 348.9,456.0 349.2,452.2 349.5,446.2 349.8,448.0 350.1,447.8 350.4,451.7 350.7,450.4 351.0,447.3 351.3,447.0 351.6,449.5 351.9,450.9 352.2,451.8 352.5,448.5 352.8,454.8 353.1,455.5 353.4,455.6 353.6,450.6 353.9,450.9 354.2,445.1 354.5,440.1 354.8,446.8 355.1,450.4 355.4,451.2 355.7,450.9 356.0,449.2 356.3,449.8 356.6,452.2 356.9,450.7 357.2,448.0 357.5,443.9 357.8,448.0 358.1,448.5 358.3,450.8 358.6,446.4 358.9,450.7 359.2,450.6 359.5,455.3 359.8,452.2 360.1,454.0 360.4,453.1 360.7,453.3 361.0,453.6 361.3,451.4 361.6,449.4 361.9,448.2 362.2,450.4 362.5,451.4 362.8,456.1 363.1,452.0 363.3,451.6 363.6,451.5 363.9,456.4 364.2,455.1 364.5,455.6 364.8,457.5 365.1,457.8 365.4,455.6 365.7,451.1 366.0,449.1 366.3,449.3 366.6,453.2 366.9,454.4 367.2,454.8 367.5,454.0 367.8,457.0 368.0,457.9 368.3,452.9 368.6,453.6 368.9,451.3 369.2,455.4 369.5,455.8 369.8,457.7 370.1,452.7 370.4,454.2 370.7,451.4 371.0,455.2 371.3,452.8 371.6,455.1 371.9,454.9 372.2,457.1 372.5,454.3 372.8,454.9 373.0,456.2 373.3,460.1 373.6,459.1 373.9,457.0 374.2,454.1 374.5,454.6 374.8,454.4 375.1,457.6 375.4,459.1 375.7,462.0 376.0,462.7 376.3,459.1 376.6,455.8 376.9,453.0 377.2,452.3 377.5,449.7 377.7,449.6 378.0,456.2 378.3,458.6 378.6,459.2 378.9,455.9 379.2,454.3 379.5,455.1 379.8,455.0 380.1,453.4 380.4,451.6 380.7,458.3 381.0,461.8 381.3,464.4 381.6,459.1 381.9,456.0 382.2,456.4 382.5,456.9 382.7,455.7 383.0,454.1 383.3,451.7 383.6,454.3 383.9,454.8 384.2,453.7 384.5,458.9 384.8,460.6 385.1,462.1 385.4,462.2 385.7,460.5 386.0,459.0 386.3,456.3 386.6,458.8 386.9,457.7 387.2,458.1 387.4,460.2 387.7,456.6 388.0,458.0 388.3,451.6 388.6,455.9 388.9,458.0 389.2,458.0 389.5,454.3 389.8,455.0 390.1,459.1 390.4,455.7 390.7,457.4 391.0,457.5 391.3,457.1 391.6,456.2 391.9,458.0 392.2,458.5 392.4,456.1 392.7,453.2 393.0,453.8 393.3,460.4 393.6,456.8 393.9,457.0 394.2,452.2 394.5,457.2 394.8,460.6 395.1,463.5 395.4,462.0 395.7,463.0 396.0,458.3 396.3,458.3 396.6,458.6 396.9,460.0 397.1,460.1 397.4,459.8 397.7,464.3 398.0,463.4 398.3,464.7 398.6,463.2 398.9,465.6 399.2,459.9 399.5,454.5 399.8,453.7 400.1,459.5 400.4,456.4 400.7,454.3 401.0,452.5 401.3,457.3 401.6,455.1 401.9,451.8 402.1,452.0 402.4,460.1 402.7,457.1 403.0,452.0 403.3,456.5 403.6,459.8 403.9,460.9 404.2,458.3 404.5,454.0 404.8,458.4 405.1,458.2 405.4,463.5 405.7,458.7 406.0,461.6 406.3,458.8 406.6,458.6 406.8,461.2 407.1,464.4 407.4,465.3 407.7,465.1 408.0,463.5 408.3,460.0 408.6,458.2 408.9,458.1 409.2,460.1 409.5,459.2 409.8,457.9 410.1,455.7 410.4,456.8 410.7,459.4 411.0,459.2 411.3,459.0 411.6,457.6 411.8,452.1 412.1,461.2 412.4,457.3 412.7,456.2 413.0,456.1 413.3,457.4 413.6,456.4 413.9,456.5 414.2,459.7 414.5,464.4 414.8,465.2 415.1,463.5 415.4,463.1 415.7,460.1 416.0,457.3 416.3,456.2 416.5,465.2 416.8,460.7 417.1,465.2 417.4,461.1 417.7,461.4 418.0,456.2 418.3,460.4 418.6,462.6 418.9,465.3 419.2,458.3 419.5,457.5 419.8,455.5 420.1,461.1 420.4,460.3 420.7,462.9 421.0,460.2 421.3,458.5 421.5,453.0 421.8,455.7 422.1,461.0 422.4,462.6 422.7,462.3 423.0,460.6 423.3,461.8 423.6,456.9 423.9,456.2 424.2,456.7 424.5,452.4 424.8,459.9 425.1,456.9 425.4,464.0 425.7,463.5 426.0,462.4 426.2,456.8 426.5,459.1 426.8,456.5 427.1,459.2 427.4,458.7 427.7,460.1 428.0,462.4 428.3,460.6 428.6,460.2 428.9,458.9 429.2,460.3 429.5,461.7 429.8,460.7 430.1,459.2 430.4,454.4 430.7,459.9 431.0,463.9 431.2,465.1 431.5,464.3 431.8,461.2 432.1,457.8 432.4,457.3 432.7,454.9 433.0,458.9 433.3,453.5 433.6,468.9 433.9,465.0 434.2,465.4 434.5,461.5 434.8,462.5 435.1,463.2 435.4,462.7 435.7,462.7 435.9,461.2 436.2,456.9 436.5,455.7 436.8,454.0 437.1,461.4 437.4,463.9 437.7,466.8 438.0,464.9 438.3,463.4 438.6,465.1 438.9,463.5 439.2,461.2 439.5,459.3 439.8,462.0 440.1,464.9 440.4,464.4 440.7,464.0 440.9,466.7 441.2,466.2 441.5,468.5 441.8,466.2 442.1,469.0 442.4,463.3 442.7,464.5 443.0,461.1 443.3,464.0 443.6,459.8 443.9,461.3 444.2,459.2 444.5,461.2 444.8,456.4 445.1,458.0 445.4,460.1 445.6,452.1 445.9,450.8 446.2,458.9 446.5,460.5 446.8,463.8 447.1,464.4 447.4,465.9 447.7,465.5 448.0,465.1 448.3,466.4 448.6,463.7 448.9,459.3 449.2,465.4 449.5,463.0 449.8,461.7 450.1,455.4 450.4,457.1 450.6,460.1 450.9,463.0 451.2,464.8 451.5,461.5 451.8,464.2 452.1,462.4 452.4,463.0 452.7,464.0 453.0,464.2 453.3,466.2 453.6,463.4 453.9,464.7 454.2,463.9 454.5,461.4 454.8,460.7 455.1,461.4 455.3,464.2 455.6,463.5 455.9,466.0 456.2,462.8 456.5,464.6 456.8,461.6 457.1,461.0 457.4,458.5 457.7,459.4 458.0,462.7 458.3,465.3 458.6,461.0 458.9,459.2 459.2,459.5 459.5,463.2 459.8,466.5 460.1,466.9 460.3,467.6 460.6,468.5 460.9,463.3 461.2,463.4 461.5,459.4 461.8,464.8 462.1,463.3 462.4,462.2 462.7,459.7 463.0,460.1 463.3,461.7 463.6,461.4 463.9,463.3 464.2,467.7 464.5,465.9 464.8,470.5 465.0,465.1 465.3,466.6 465.6,464.9 465.9,463.9 466.2,461.0 466.5,459.7 466.8,464.3 467.1,463.7 467.4,469.0 467.7,468.9 468.0,464.2 468.3,462.2 468.6,462.5 468.9,464.3 469.2,464.7 469.5,458.7 469.8,458.2 470.0,457.0 470.3,460.9 470.6,464.0 470.9,467.6 471.2,467.3 471.5,463.8 471.8,464.3 472.1,461.9 472.4,461.8 472.7,464.9 473.0,464.5 473.3,464.3 473.6,457.7 473.9,462.5 474.2,463.1 474.5,463.4 474.7,458.8 475.0,461.3 475.3,465.0 475.6,464.0 475.9,466.6 476.2,467.1 476.5,468.1 476.8,469.0 477.1,461.8 477.4,452.8 477.7,455.7 478.0,458.3 478.3,459.2 478.6,459.9 478.9,459.5 479.2,460.7 479.5,460.3 479.7,462.1 480.0,464.6 480.3,468.5 480.6,468.5 480.9,470.3 481.2,468.7 481.5,466.7 481.8,460.7 482.1,460.4 482.4,459.6 482.7,462.8 483.0,466.6 483.3,470.5 483.6,470.6 483.9,467.6 484.2,469.8 484.4,468.1 484.7,465.2 485.0,464.2 485.3,462.2 485.6,463.6 485.9,463.5 486.2,461.5 486.5,456.5 486.8,456.5 487.1,457.5 487.4,462.0 487.7,463.9 488.0,465.6 488.3,463.8 488.6,462.1 488.9,464.3 489.2,470.6 489.4,468.0 489.7,465.7 490.0,461.9 490.3,466.6 490.6,468.4 490.9,469.3 491.2,467.8 491.5,465.9 491.8,465.5 492.1,464.1 492.4,463.9 492.7,463.8 493.0,464.5 493.3,465.9 493.6,467.8 493.9,470.2 494.1,469.6 494.4,462.8 494.7,458.5 495.0,457.7 495.3,461.1 495.6,461.4 495.9,461.7 496.2,459.3 496.5,463.9 496.8,464.4 497.1,464.0 497.4,463.9 497.7,462.6 498.0,459.8 498.3,464.4 498.6,464.0 498.9,460.5 499.1,458.3 499.4,461.2 499.7,462.0 500.0,465.5 500.3,463.5 500.6,466.7 500.9,463.6 501.2,463.8 501.5,465.4 501.8,467.8 502.1,463.2 502.4,464.4 502.7,460.7 503.0,456.2 503.3,463.3 503.6,466.0 503.8,467.7 504.1,466.4 504.4,463.7 504.7,465.2 505.0,466.8 505.3,468.7 505.6,469.2 505.9,465.8 506.2,464.1 506.5,463.7 506.8,465.6 507.1,466.8 507.4,469.4 507.7,471.9 508.0,471.3 508.3,468.2 508.6,463.9 508.8,464.1 509.1,469.5 509.4,470.4 509.7,467.8 510.0,466.9 510.3,467.3 510.6,470.3 510.9,469.7 511.2,468.1 511.5,466.2 511.8,463.3 512.1,466.0 512.4,467.9 512.7,460.5 513.0,468.0 513.3,463.6 513.5,464.3 513.8,464.8 514.1,468.0 514.4,464.8 514.7,458.0 515.0,459.0 515.3,467.3 515.6,467.0 515.9,468.5 516.2,465.7 516.5,461.6 516.8,467.7 517.1,468.9 517.4,466.3 517.7,468.1 518.0,466.3 518.3,469.3 518.5,467.6 518.8,470.6 519.1,469.1 519.4,466.0 519.7,460.2 520.0,461.8 520.3,466.9 520.6,468.3 520.9,468.8 521.2,468.5 521.5,468.3 521.8,468.8 522.1,467.0 522.4,467.0 522.7,466.8 523.0,468.2 523.2,471.2 523.5,470.2 523.8,473.5 524.1,472.3 524.4,472.4 524.7,465.9 525.0,463.5 525.3,465.4 525.6,461.6 525.9,457.7 526.2,459.2 526.5,464.0 526.8,464.2 527.1,464.4 527.4,462.9 527.7,465.3 528.0,466.6 528.2,468.4 528.5,465.6 528.8,468.0 529.1,467.0 529.4,472.5 529.7,472.0 530.0,470.8 530.3,467.0 530.6,468.4 530.9,466.4 531.2,466.9 531.5,463.9 531.8,463.5 532.1,465.8 532.4,467.8 532.7,471.6 532.9,470.7 533.2,468.3 533.5,465.5 533.8,463.6 534.1,463.3 534.4,467.4 534.7,468.2 535.0,468.7 535.3,466.2 535.6,468.1 535.9,470.3 536.2,467.6 536.5,465.2 536.8,466.2 537.1,466.6 537.4,468.3 537.7,466.3 537.9,464.3 538.2,464.1 538.5,458.8 538.8,465.1 539.1,463.5 539.4,463.7 539.7,464.2 540.0,460.0 540.3,459.1 540.6,458.2 540.9,464.4 541.2,465.1 541.5,468.0 541.8,467.6 542.1,466.5 542.4,466.1 542.6,465.9 542.9,471.0 543.2,470.3 543.5,468.9 543.8,462.3 544.1,465.3 544.4,467.4 544.7,471.0 545.0,475.2 545.3,471.9 545.6,468.8 545.9,465.3 546.2,466.9 546.5,464.8 546.8,469.2 547.1,472.2 547.4,473.8 547.6,469.2 547.9,463.8 548.2,464.6 548.5,464.8 548.8,466.2 549.1,471.4 549.4,473.6 549.7,474.5 550.0,469.7 550.3,462.3 550.6,462.5 550.9,464.7 551.2,470.4 551.5,470.9 551.8,468.8 552.1,467.3 552.3,463.0 552.6,467.6 552.9,471.0 553.2,469.2 553.5,469.2 553.8,467.6 554.1,464.6 554.4,467.2 554.7,470.5 555.0,470.6 555.3,474.3 555.6,466.8 555.9,469.6 556.2,467.5 556.5,468.8 556.8,466.1 557.0,464.7 557.3,463.0 557.6,463.3 557.9,464.5 558.2,467.7 558.5,466.1 558.8,464.3 559.1,462.1 559.4,462.0 559.7,463.3 560.0,464.0 560.3,463.2 560.6,460.4 560.9,470.0 561.2,471.8 561.5,471.6 561.8,471.0 562.0,468.1 562.3,465.8 562.6,466.0 562.9,468.5 563.2,474.1 563.5,467.2 563.8,469.8 564.1,466.4 564.4,466.0 564.7,466.1 565.0,468.1 565.3,472.4 565.6,474.6 565.9,469.6 566.2,468.0 566.5,465.5 566.7,466.0 567.0,462.5 567.3,467.7 567.6,472.5 567.9,470.0 568.2,469.4 568.5,466.9 568.8,464.8 569.1,466.9 569.4,465.8 569.7,466.9 570.0,461.7 570.3,462.7 570.6,465.5 570.9,465.3 571.2,468.3 571.5,463.4 571.7,467.3 572.0,469.0 572.3,468.3 572.6,469.0 572.9,470.3 573.2,470.1 573.5,468.5 573.8,464.4 574.1,467.4 574.4,467.6 574.7,467.6 575.0,464.3 575.3,468.5 575.6,464.2 575.9,472.7 576.2,470.7 576.4,474.8 576.7,472.3 577.0,471.7 577.3,470.4 577.6,471.0 577.9,471.7 578.2,473.9 578.5,471.1 578.8,470.4 579.1,470.6 579.4,475.0 579.7,472.2 580.0,469.9 580.3,465.0 580.6,470.2 580.9,465.6 581.2,466.7 581.4,463.3 581.7,471.4 582.0,463.5 582.3,473.8 582.6,471.0 582.9,470.0 583.2,469.3 583.5,468.0 583.8,468.4 584.1,467.9 584.4,469.4 584.7,470.8 585.0,474.2 585.3,475.0 585.6,473.5 585.9,474.7 586.1,475.0 586.4,472.3 586.7,472.2 587.0,472.5 587.3,475.9 587.6,474.5 587.9,469.3 588.2,469.7 588.5,472.4 588.8,477.0 589.1,476.2 589.4,473.3 589.7,470.1 590.0,466.7 590.3,468.8 590.6,471.9 590.9,471.7 591.1,469.5 591.4,466.8 591.7,465.1 592.0,466.6 592.3,457.1 592.6,463.9 592.9,467.3 593.2,471.5 593.5,471.2 593.8,468.8 594.1,468.0 594.4,468.8 594.7,466.8 595.0,467.8 595.3,467.5 595.6,468.9 595.8,469.9 596.1,467.8 596.4,469.2 596.7,467.1 597.0,470.3 597.3,468.1 597.6,467.9 597.9,465.7 598.2,465.2 598.5,466.4 598.8,466.3 599.1,469.7 599.4,472.1 599.7,473.2 600.0,471.3 600.3,467.1 600.6,465.4 600.8,465.8 601.1,468.3 601.4,467.8 601.7,467.4 602.0,467.3 602.3,467.7 602.6,468.6 602.9,469.5 603.2,470.5 603.5,468.7 603.8,466.0 604.1,466.8 604.4,469.1 604.7,472.0 605.0,472.4 605.3,472.9 605.5,469.4 605.8,468.8 606.1,468.3 606.4,468.1 606.7,469.9 607.0,470.0 607.3,470.9 607.6,466.8 607.9,466.8 608.2,465.2 608.5,466.3 608.8,463.8 609.1,465.6 609.4,469.7 609.7,469.6 610.0,472.8 610.3,466.1 610.5,474.4 610.8,469.4 611.1,473.3 611.4,469.8 611.7,471.5 612.0,470.6 612.3,470.3 612.6,466.1 612.9,463.2 613.2,461.5 613.5,466.6 613.8,465.1 614.1,463.8 614.4,464.7 614.7,470.0 615.0,472.3 615.2,469.5 615.5,466.4 615.8,466.8 616.1,469.6 616.4,473.5 616.7,471.5 617.0,471.6 617.3,468.2 617.6,466.6 617.9,473.0 618.2,471.3 618.5,473.6 618.8,469.6 619.1,472.1 619.4,471.2 619.7,466.5 620.0,467.7 620.2,470.3 620.5,472.8 620.8,470.3 621.1,471.2 621.4,467.0 621.7,469.5 622.0,467.2 622.3,473.4 622.6,471.0 622.9,477.0 623.2,474.6 623.5,474.7 623.8,466.3 624.1,467.5 624.4,467.0 624.7,468.9 624.9,465.1 625.2,463.8 625.5,468.6 625.8,474.5 626.1,473.1 626.4,471.9 626.7,467.1 627.0,471.6 627.3,469.9 627.6,474.9 627.9,471.1 628.2,471.6 628.5,472.2 628.8,471.1 629.1,474.2 629.4,470.5 629.7,470.5 629.9,466.6 630.2,469.3 630.5,470.8 630.8,471.7 631.1,466.9 631.4,468.9 631.7,468.0 632.0,475.2 632.3,474.5 632.6,466.5 632.9,465.0 633.2,463.8 633.5,470.0 633.8,470.0 634.1,470.1 634.4,468.6 634.6,468.3 634.9,464.6 635.2,467.3 635.5,467.2 635.8,468.6 636.1,468.1 636.4,472.2 636.7,473.1 637.0,467.7 637.3,466.8 637.6,468.7 637.9,472.6 638.2,473.7 638.5,471.5 638.8,470.0 639.1,471.3 639.4,471.0 639.6,466.3 639.9,469.2 640.2,472.0 640.5,476.3 640.8,475.2 641.1,467.3 641.4,468.8 641.7,471.2 642.0,475.3 642.3,472.3 642.6,472.2 642.9,471.7 643.2,474.2 643.5,474.9 643.8,474.7 644.1,471.7 644.3,473.9 644.6,473.5 644.9,474.2 645.2,470.1 645.5,467.8 645.8,466.9 646.1,464.7 646.4,467.3 646.7,468.5 647.0,471.7 647.3,469.1 647.6,466.9 647.9,466.9 648.2,471.0 648.5,469.1 648.8,467.5 649.1,468.0 649.3,471.4 649.6,471.4 649.9,471.5 650.2,473.6 650.5,478.6 650.8,472.3 651.1,469.8 651.4,466.1 651.7,469.4 652.0,466.3 652.3,469.6 652.6,470.4 652.9,473.8 653.2,470.6"/><polyline stroke="#2ca02c" points="77.0,22.7 77.3,58.5 77.6,85.2 77.9,107.6 78.2,125.6 78.5,137.1 78.8,146.7 79.1,156.4 79.4,165.6 79.7,173.5 80.0,181.9 80.3,188.2 80.6,200.4 80.9,211.3 81.2,219.9 81.5,227.3 81.8,234.6 82.0,243.3 82.3,252.6 82.6,260.4 82.9,264.5 83.2,266.9 83.5,270.6 83.8,275.1 84.1,280.2 84.4,281.9 84.7,284.4 85.0,286.9 85.3,289.1 85.6,290.8 85.9,292.9 86.2,296.6 86.5,297.7 86.7,300.4 87.0,300.0 87.3,304.3 87.6,306.5 87.9,311.7 88.2,314.3 88.5,315.5 88.8,316.7 89.1,318.0 89.4,321.5 89.7,322.9 90.0,326.2 90.3,330.0 90.6,334.7 90.9,341.2 91.2,342.9 91.5,344.7 91.7,342.9 92.0,344.8 92.3,347.3 92.6,348.4 92.9,350.5 93.2,354.7 93.5,356.4 93.8,356.5 94.1,356.5 94.4,357.9 94.7,359.6 95.0,360.4 95.3,361.0 95.6,363.5 95.9,365.3 96.2,365.8 96.4,366.0 96.7,368.8 97.0,369.3 97.3,371.5 97.6,370.3 97.9,378.8 98.2,379.8 98.5,381.4 98.8,376.4 99.1,374.0 99.4,374.2 99.7,378.7 100.0,382.8 100.3,383.7 100.6,381.0 100.9,381.0 101.2,380.5 101.4,381.2 101.7,382.5 102.0,382.1 102.3,382.1 102.6,377.2 102.9,377.4 103.2,379.7 103.5,386.9 103.8,393.4 104.1,390.3 104.4,388.7 104.7,385.8 105.0,390.0 105.3,391.2 105.6,392.5 105.9,392.3 106.1,391.5 106.4,393.5 106.7,392.4 107.0,395.7 107.3,394.8 107.6,397.7 107.9,393.0 108.2,390.5 108.5,387.9 108.8,391.3 109.1,390.7 109.4,396.3 109.7,395.1 110.0,396.8 110.3,395.3 110.6,394.0 110.9,396.7 111.1,395.9 111.4,401.1 111.7,402.4 112.0,404.9 112.3,402.2 112.6,403.1 112.9,401.6 113.2,403.0 113.5,401.8 113.8,402.7 114.1,400.3 114.4,401.0 114.7,397.8 115.0,401.5 115.3,400.4 115.6,403.8 115.8,401.2 116.1,403.5 116.4,403.3 116.7,407.3 117.0,404.3 117.3,403.5 117.6,402.8 117.9,406.0 118.2,405.1 118.5,404.2 118.8,401.5 119.1,403.8 119.4,405.5 119.7,407.6 120.0,409.8 120.3,411.0 120.6,410.8 120.8,411.7 121.1,410.7 121.4,408.0 121.7,407.6 122.0,413.2 122.3,410.3 122.6,408.0 122.9,405.7 123.2,409.0 123.5,412.1 123.8,411.3 124.1,410.7 124.4,408.4 124.7,409.0 125.0,410.0 125.3,416.0 125.5,412.4 125.8,413.8 126.1,414.0 126.4,412.7 126.7,414.0 127.0,411.6 127.3,415.5 127.6,414.6 127.9,419.0 128.2,420.6 128.5,423.9 128.8,422.2 129.1,418.6 129.4,415.6 129.7,416.4 130.0,414.7 130.3,411.5 130.5,411.7 130.8,413.5 131.1,420.2 131.4,423.2 131.7,421.0 132.0,416.1 132.3,414.3 132.6,419.6 132.9,421.6 133.2,420.4 133.5,414.7 133.8,422.6 134.1,417.8 134.4,422.6 134.7,419.0 135.0,418.8 135.2,419.6 135.5,421.9 135.8,423.7 136.1,422.5 136.4,421.2 136.7,423.3 137.0,425.0 137.3,422.3 137.6,419.1 137.9,416.4 138.2,413.2 138.5,412.7 138.8,413.7 139.1,417.9 139.4,419.1 139.7,421.4 140.0,423.6 140.2,427.0 140.5,425.2 140.8,424.0 141.1,421.0 141.4,422.0 141.7,419.5 142.0,419.7 142.3,420.6 142.6,425.9 142.9,427.6 143.2,424.5 143.5,424.2 143.8,423.1 144.1,425.3 144.4,422.5 144.7,427.6 144.9,430.9 145.2,431.4 145.5,425.9 145.8,423.1 146.1,426.2 146.4,431.0 146.7,431.2 147.0,427.8 147.3,426.5 147.6,427.0 147.9,426.6 148.2,425.7 148.5,424.9 148.8,426.2 149.1,427.4 149.4,430.2 149.7,434.2 149.9,432.2 150.2,429.3 150.5,428.9 150.8,430.2 151.1,430.9 151.4,434.0 151.7,429.9 152.0,429.5 152.3,424.0 152.6,429.0 152.9,433.7 153.2,435.2 153.5,435.0 153.8,432.2 154.1,432.1 154.4,433.6 154.6,438.3 154.9,437.7 155.2,436.7 155.5,431.8 155.8,429.3 156.1,430.9 156.4,431.0 156.7,431.4 157.0,429.8 157.3,430.3 157.6,432.5 157.9,435.1 158.2,433.8 158.5,432.8 158.8,432.3 159.1,433.3 159.4,436.5 159.6,432.0 159.9,429.8 160.2,427.7 160.5,430.5 160.8,433.0 161.1,437.6 161.4,440.9 161.7,441.5 162.0,438.8 162.3,439.6 162.6,439.6 162.9,441.8 163.2,437.4 163.5,437.1 163.8,434.8 164.1,434.5 164.3,435.5 164.6,434.6 164.9,435.8 165.2,436.0 165.5,441.6 165.8,438.3 166.1,437.8 166.4,435.1 166.7,438.2 167.0,439.8 167.3,439.6 167.6,441.3 167.9,439.0 168.2,437.7 168.5,436.4 168.8,435.4 169.1,441.1 169.3,434.8 169.6,435.0 169.9,432.1 170.2,436.2 170.5,437.0 170.8,438.0 171.1,437.5 171.4,437.8 171.7,440.2 172.0,438.4 172.3,439.9 172.6,439.7 172.9,436.0 173.2,438.2 173.5,439.8 173.8,441.2 174.0,440.1 174.3,437.9 174.6,440.9 174.9,441.7 175.2,444.0 175.5,445.7 175.8,447.1 176.1,447.4 176.4,444.5 176.7,438.4 177.0,438.0 177.3,435.9 177.6,437.7 177.9,436.4 178.2,437.5 178.5,440.8 178.8,442.1 179.0,443.0 179.3,442.2 179.6,440.9 179.9,444.0 180.2,445.9 180.5,448.5 180.8,444.0 181.1,442.4 181.4,439.0 181.7,437.0 182.0,433.0 182.3,433.7 182.6,436.1 182.9,438.6 183.2,441.7 183.5,441.9 183.7,442.9 184.0,445.0 184.3,447.4 184.6,445.6 184.9,443.7 185.2,444.2 185.5,445.4 185.8,447.9 186.1,444.4 186.4,443.6 186.7,440.1 187.0,441.0 187.3,442.0 187.6,442.5 187.9,446.3 188.2,442.8 188.5,449.3 188.7,439.8 189.0,443.2 189.3,440.3 189.6,442.5 189.9,442.2 190.2,442.3 190.5,440.0 190.8,438.6 191.1,440.3 191.4,444.1 191.7,448.5 192.0,445.4 192.3,444.8 192.6,441.1 192.9,444.4 193.2,444.3 193.4,446.7 193.7,447.5 194.0,447.0 194.3,448.5 194.6,448.4 194.9,448.5 195.2,447.8 195.5,445.3 195.8,443.7 196.1,444.4 196.4,446.2 196.7,444.8 197.0,443.7 197.3,446.3 197.6,448.3 197.9,444.5 198.2,442.3 198.4,444.5 198.7,445.9 199.0,444.4 199.3,444.8 199.6,446.9 199.9,445.7 200.2,442.7 200.5,441.2 200.8,443.0 201.1,445.5 201.4,447.1 201.7,451.6 202.0,451.9 202.3,452.7 202.6,446.5 202.9,444.7 203.1,444.9 203.4,445.2 203.7,448.9 204.0,448.0 204.3,451.0 204.6,448.4 204.9,445.3 205.2,443.1 205.5,447.4 205.8,443.8 206.1,448.0 206.4,447.2 206.7,446.9 207.0,441.5 207.3,443.7 207.6,444.9 207.9,450.1 208.1,453.3 208.4,456.3 208.7,450.8 209.0,447.8 209.3,447.4 209.6,448.9 209.9,446.6 210.2,446.7 210.5,444.7 210.8,446.5 211.1,445.4 211.4,442.9 211.7,444.2 212.0,448.7 212.3,452.8 212.6,450.6 212.8,453.5 213.1,446.8 213.4,448.0 213.7,446.8 214.0,448.1 214.3,448.0 214.6,446.0 214.9,446.0 215.2,447.3 215.5,447.2 215.8,447.3 216.1,444.8 216.4,448.1 216.7,447.7 217.0,447.4 217.3,447.1 217.6,444.1 217.8,443.9 218.1,442.1 218.4,449.1 218.7,451.7 219.0,451.8 219.3,445.9 219.6,447.0 219.9,446.8 220.2,450.3 220.5,451.5 220.8,451.9 221.1,449.1 221.4,453.2 221.7,447.8 222.0,450.9 222.3,450.6 222.5,456.4 222.8,454.8 223.1,449.4 223.4,447.1 223.7,446.0 224.0,447.0 224.3,444.5 224.6,444.1 224.9,447.4 225.2,448.8 225.5,451.7 225.8,451.8 226.1,450.8 226.4,450.9 226.7,451.5 227.0,455.5 227.3,454.6 227.5,451.9 227.8,446.9 228.1,445.9 228.4,446.4 228.7,448.5 229.0,446.8 229.3,446.1 229.6,445.3 229.9,446.6 230.2,446.3 230.5,447.3 230.8,446.6 231.1,448.5 231.4,446.0 231.7,448.1 232.0,445.3 232.2,449.3 232.5,450.2 232.8,454.6 233.1,451.0 233.4,447.3 233.7,442.6 234.0,443.7 234.3,448.8 234.6,451.6 234.9,453.2 235.2,449.1 235.5,449.7 235.8,449.8 236.1,451.1 236.4,444.6 236.7,441.9 237.0,442.6 237.2,450.0 237.5,451.8 237.8,451.9 238.1,452.6 238.4,454.3 238.7,455.1 239.0,453.4 239.3,452.8 239.6,450.9 239.9,450.5 240.2,447.5 240.5,447.1 240.8,447.2 241.1,450.0 241.4,458.6 241.7,455.5 241.9,455.6 242.2,451.9 242.5,447.9 242.8,444.7 243.1,445.8 243.4,447.4 243.7,451.9 244.0,453.4 244.3,454.1 244.6,453.8 244.9,452.8 245.2,456.1 245.5,452.7 245.8,453.0 246.1,449.7 246.4,450.0 246.7,450.7 246.9,454.6 247.2,454.8 247.5,453.3 247.8,448.4 248.1,447.8 248.4,448.2 248.7,447.6 249.0,447.2 249.3,444.4 249.6,447.0 249.9,449.4 250.2,452.0 250.5,451.2 250.8,447.8 251.1,444.4 251.4,444.9 251.6,449.4 251.9,451.9 252.2,451.8 252.5,448.3 252.8,446.8 253.1,448.8 253.4,455.9 253.7,450.3 254.0,446.3 254.3,447.4 254.6,448.5 254.9,450.7 255.2,446.5 255.5,448.6 255.8,447.3 256.1,448.1 256.4,445.6 256.6,450.4 256.9,456.1 257.2,458.4 257.5,456.4 257.8,452.8 258.1,452.5 258.4,451.1 258.7,449.5 259.0,450.9 259.3,448.9 259.6,448.1 259.9,448.0 260.2,447.7 260.5,452.1 260.8,450.4 261.1,453.3 261.3,452.8 261.6,453.2 261.9,453.1 262.2,450.8 262.5,450.8 262.8,451.8 263.1,451.3 263.4,451.6 263.7,452.1 264.0,454.6 264.3,452.1 264.6,452.1 264.9,453.7 265.2,454.2 265.5,449.3 265.8,445.6 266.1,446.6 266.3,452.2 266.6,455.6 266.9,456.8 267.2,453.4 267.5,455.4 267.8,451.4 268.1,450.8 268.4,451.3 268.7,448.1 269.0,447.0 269.3,452.5 269.6,454.7 269.9,461.1 270.2,454.0 270.5,448.9 270.8,447.7 271.0,449.9 271.3,452.8 271.6,452.7 271.9,451.5 272.2,448.6 272.5,452.0 272.8,454.4 273.1,454.0 273.4,451.5 273.7,450.0 274.0,448.4 274.3,448.0 274.6,448.0 274.9,448.7 275.2,450.1 275.5,449.9 275.8,451.5 276.0,453.0 276.3,451.3 276.6,453.0 276.9,450.8 277.2,454.4 277.5,452.3 277.8,453.8 278.1,453.0 278.4,456.5 278.7,458.3 279.0,454.5 279.3,452.4 279.6,447.6 279.9,452.1 280.2,454.7 280.5,456.1 280.7,454.8 281.0,454.8 281.3,455.7 281.6,455.1 281.9,449.8 282.2,448.2 282.5,450.3 282.8,450.6 283.1,452.4 283.4,451.1 283.7,453.7 284.0,454.6 284.3,455.7 284.6,455.4 284.9,453.3 285.2,456.5 285.5,455.0 285.7,454.2 286.0,451.9 286.3,455.9 286.6,453.6 286.9,453.1 287.2,452.8 287.5,456.1 287.8,457.2 288.1,454.2 288.4,450.4 288.7,450.1 289.0,451.2 289.3,455.7 289.6,459.3 289.9,459.8 290.2,458.4 290.4,455.5 290.7,452.3 291.0,454.9 291.3,455.9 291.6,459.0 291.9,453.5 292.2,452.5 292.5,448.6 292.8,451.9 293.1,451.4 293.4,450.5 293.7,449.9 294.0,447.2 294.3,448.6 294.6,449.5 294.9,451.6 295.2,452.6 295.4,452.8 295.7,451.9 296.0,452.6 296.3,455.1 296.6,456.6 296.9,455.0 297.2,457.0 297.5,456.9 297.8,457.2 298.1,457.0 298.4,455.8 298.7,460.6 299.0,459.9 299.3,460.5 299.6,456.2 299.9,453.4 300.1,452.3 300.4,452.7 300.7,456.8 301.0,458.6 301.3,459.1 301.6,457.6 301.9,456.8 302.2,454.8 302.5,451.5 302.8,454.8 303.1,456.6 303.4,462.3 303.7,463.3 304.0,464.4 304.3,463.0 304.6,459.1 304.9,458.5 305.1,457.3 305.4,458.0 305.7,460.9 306.0,460.6 306.3,462.3 306.6,464.6 306.9,461.1 307.2,462.8 307.5,459.8 307.8,460.8 308.1,456.4 308.4,459.6 308.7,456.9 309.0,457.2 309.3,454.3 309.6,450.1 309.8,454.9 310.1,459.0 310.4,463.4 310.7,456.1 311.0,455.8 311.3,459.1 311.6,463.3 311.9,459.0 312.2,455.2 312.5,454.9 312.8,457.9 313.1,460.9 313.4,458.6 313.7,457.6 314.0,451.1 314.3,454.9 314.6,457.3 314.8,461.0 315.1,455.7 315.4,456.1 315.7,454.3 316.0,455.3 316.3,450.8 316.6,450.3 316.9,450.8 317.2,452.3 317.5,457.0 317.8,460.0 318.1,462.2 318.4,459.5 318.7,457.7 319.0,455.2 319.3,456.9 319.5,455.3 319.8,456.8 320.1,456.7 320.4,456.9 320.7,455.2 321.0,456.5 321.3,455.0 321.6,455.2 321.9,451.1 322.2,453.0 322.5,455.1 322.8,451.3 323.1,451.8 323.4,454.6 323.7,462.8 324.0,465.4 324.3,462.6 324.5,460.9 324.8,458.2 325.1,455.3 325.4,455.6 325.7,458.6 326.0,462.3 326.3,461.6 326.6,461.2 326.9,461.2 327.2,463.4 327.5,461.0 327.8,457.1 328.1,456.0 328.4,458.4 328.7,463.8 329.0,459.9 329.2,459.6 329.5,456.0 329.8,460.1 330.1,460.2 330.4,464.9 330.7,458.2 331.0,453.9 331.3,460.5 331.6,462.0 331.9,466.3 332.2,458.9 332.5,458.9 332.8,458.8 333.1,460.1 333.4,458.8 333.7,457.2 334.0,460.0 334.2,461.6 334.5,461.7 334.8,463.4 335.1,465.1 335.4,460.6 335.7,458.1 336.0,458.6 336.3,465.8 336.6,457.2 336.9,452.5 337.2,451.5 337.5,455.0 337.8,459.8 338.1,462.6 338.4,460.7 338.7,455.9 338.9,456.6 339.2,458.7 339.5,463.2 339.8,467.8 340.1,464.1 340.4,465.1 340.7,461.3 341.0,462.8 341.3,461.2 341.6,462.5 341.9,464.4 342.2,464.0 342.5,463.3 342.8,460.7 343.1,461.1 343.4,458.9 343.7,461.0 343.9,461.8 344.2,463.9 344.5,462.0 344.8,459.5 345.1,458.5 345.4,455.1 345.7,454.9 346.0,458.4 346.3,461.3 346.6,460.1 346.9,456.6 347.2,458.3 347.5,464.1 347.8,467.6 348.1,468.5 348.4,464.7 348.6,463.9 348.9,458.8 349.2,464.3 349.5,464.3 349.8,466.3 350.1,462.9 350.4,460.8 350.7,460.0 351.0,456.3 351.3,455.6 351.6,453.8 351.9,460.0 352.2,463.0 352.5,465.4 352.8,462.0 353.1,457.5 353.4,458.4 353.6,459.9 353.9,461.5 354.2,458.1 354.5,459.1 354.8,460.0 355.1,463.5 355.4,461.4 355.7,461.0 356.0,456.8 356.3,459.0 356.6,459.1 356.9,461.1 357.2,462.4 357.5,460.1 357.8,463.7 358.1,462.8 358.3,466.3 358.6,463.9 358.9,461.9 359.2,459.8 359.5,461.1 359.8,462.4 360.1,465.0 360.4,461.7 360.7,463.3 361.0,463.9 361.3,463.8 361.6,464.3 361.9,465.1 362.2,469.0 362.5,466.5 362.8,464.0 363.1,464.1 363.3,468.3 363.6,468.3 363.9,464.7 364.2,459.8 364.5,460.6 364.8,464.0 365.1,461.8 365.4,460.9 365.7,458.5 366.0,464.5 366.3,465.6 366.6,466.5 366.9,466.7 367.2,464.9 367.5,464.7 367.8,458.5 368.0,456.7 368.3,454.4 368.6,459.5 368.9,461.3 369.2,461.4 369.5,460.7 369.8,460.3 370.1,463.0 370.4,462.0 370.7,460.9 371.0,462.4 371.3,463.0 371.6,466.2 371.9,462.3 372.2,462.4 372.5,460.0 372.8,459.8 373.0,461.6 373.3,459.7 373.6,462.0 373.9,456.7 374.2,460.5 374.5,460.2 374.8,466.2 375.1,468.7 375.4,467.4 375.7,465.3 376.0,459.3 376.3,459.7 376.6,459.8 376.9,462.3 377.2,464.6 377.5,465.4 377.7,467.2 378.0,464.5 378.3,463.9 378.6,460.2 378.9,461.1 379.2,455.9 379.5,457.6 379.8,458.0 380.1,462.2 380.4,463.4 380.7,458.5 381.0,458.2 381.3,457.8 381.6,461.4 381.9,463.4 382.2,463.7 382.5,463.1 382.7,462.9 383.0,462.1 383.3,464.3 383.6,467.4 383.9,469.7 384.2,467.0 384.5,463.7 384.8,465.2 385.1,468.4 385.4,465.6 385.7,464.1 386.0,460.4 386.3,462.1 386.6,462.0 386.9,464.4 387.2,464.7 387.4,462.7 387.7,462.3 388.0,460.0 388.3,464.8 388.6,462.3 388.9,465.3 389.2,462.4 389.5,465.2 389.8,462.3 390.1,461.2 390.4,460.6 390.7,461.5 391.0,462.0 391.3,462.8 391.6,463.0 391.9,464.2 392.2,465.4 392.4,465.2 392.7,465.8 393.0,464.6 393.3,464.5 393.6,464.1 393.9,466.0 394.2,466.5 394.5,462.3 394.8,461.7 395.1,464.1 395.4,465.4 395.7,463.8 396.0,462.8 396.3,460.6 396.6,462.2 396.9,462.7 397.1,468.5 397.4,469.8 397.7,466.6 398.0,466.8 398.3,468.3 398.6,466.1 398.9,463.7 399.2,460.9 399.5,464.7 399.8,461.0 400.1,460.3 400.4,462.0 400.7,464.0 401.0,463.9 401.3,465.2 401.6,468.4 401.9,468.7 402.1,464.8 402.4,462.5 402.7,457.6 403.0,459.5 403.3,458.8 403.6,463.9 403.9,465.8 404.2,465.5 404.5,461.0 404.8,458.7 405.1,456.6 405.4,460.4 405.7,460.4 406.0,466.4 406.3,469.4 406.6,468.6 406.8,463.4 407.1,460.6 407.4,461.4 407.7,461.7 408.0,459.0 408.3,463.4 408.6,464.4 408.9,469.3 409.2,468.3 409.5,467.0 409.8,465.2 410.1,461.4 410.4,460.8 410.7,461.5 411.0,462.7 411.3,458.4 411.6,460.5 411.8,461.0 412.1,464.8 412.4,461.4 412.7,466.4 413.0,464.0 413.3,467.2 413.6,459.6 413.9,464.0 414.2,463.3 414.5,461.7 414.8,460.1 415.1,460.9 415.4,462.1 415.7,462.7 416.0,462.8 416.3,466.6 416.5,463.4 416.8,462.1 417.1,459.5 417.4,462.3 417.7,463.7 418.0,462.6 418.3,464.9 418.6,465.0 418.9,468.8 419.2,467.8 419.5,467.5 419.8,462.2 420.1,461.0 420.4,463.6 420.7,469.1 421.0,469.5 421.3,469.0 421.5,465.8 421.8,463.8 422.1,468.8 422.4,472.1 422.7,471.0 423.0,465.7 423.3,464.5 423.6,463.7 423.9,462.6 424.2,462.8 424.5,469.2 424.8,472.7 425.1,471.0 425.4,467.4 425.7,463.6 426.0,465.0 426.2,466.9 426.5,465.8 426.8,465.1 427.1,462.5 427.4,463.0 427.7,462.4 428.0,466.8 428.3,471.5 428.6,474.2 428.9,468.7 429.2,468.3 429.5,467.9 429.8,471.7 430.1,469.8 430.4,466.6 430.7,465.3 431.0,465.9 431.2,465.3 431.5,466.7 431.8,467.1 432.1,466.6 432.4,463.9 432.7,464.2 433.0,465.5 433.3,467.6 433.6,469.8 433.9,463.4 434.2,465.3 434.5,463.6 434.8,467.5 435.1,464.8 435.4,468.4 435.7,469.0 435.9,469.1 436.2,462.2 436.5,458.5 436.8,458.5 437.1,459.2 437.4,463.5 437.7,468.9 438.0,471.8 438.3,471.1 438.6,470.0 438.9,468.4 439.2,470.2 439.5,468.5 439.8,465.3 440.1,465.5 440.4,468.1 440.7,471.0 440.9,470.7 441.2,468.4 441.5,468.6 441.8,466.5 442.1,467.4 442.4,466.7 442.7,466.5 443.0,466.2 443.3,469.1 443.6,472.9 443.9,470.3 444.2,466.2 444.5,465.4 444.8,463.7 445.1,465.4 445.4,463.0 445.6,469.0 445.9,471.0 446.2,468.0 446.5,464.8 446.8,467.2 447.1,466.2 447.4,463.8 447.7,463.3 448.0,466.8 448.3,467.4 448.6,465.2 448.9,465.6 449.2,464.9 449.5,464.2 449.8,466.7 450.1,469.4 450.4,472.5 450.6,469.8 450.9,468.2 451.2,466.8 451.5,465.2 451.8,466.9 452.1,465.8 452.4,466.9 452.7,465.8 453.0,464.6 453.3,467.6 453.6,465.4 453.9,467.5 454.2,462.8 454.5,467.2 454.8,466.4 455.1,469.0 455.3,468.2 455.6,469.3 455.9,469.3 456.2,469.1 456.5,469.1 456.8,467.9 457.1,466.8 457.4,465.7 457.7,465.2 458.0,464.8 458.3,467.7 458.6,466.4 458.9,470.4 459.2,467.1 459.5,470.8 459.8,471.5 460.1,468.4 460.3,468.3 460.6,474.3 460.9,471.5 461.2,470.4 461.5,466.4 461.8,470.3 462.1,472.5 462.4,475.5 462.7,471.9 463.0,466.4 463.3,466.1 463.6,462.0 463.9,464.3 464.2,465.1 464.5,467.3 464.8,469.3 465.0,461.7 465.3,464.0 465.6,471.0 465.9,469.0 466.2,468.3 466.5,464.7 466.8,463.9 467.1,463.6 467.4,468.1 467.7,469.7 468.0,467.2 468.3,464.7 468.6,467.5 468.9,467.9 469.2,469.3 469.5,468.1 469.8,468.2 470.0,467.8 470.3,463.8 470.6,463.8 470.9,463.7 471.2,468.1 471.5,471.5 471.8,470.6 472.1,470.3 472.4,467.8 472.7,467.2 473.0,465.0 473.3,465.1 473.6,466.5 473.9,466.6 474.2,471.6 474.5,471.6 474.7,474.1 475.0,468.7 475.3,473.8 475.6,471.5 475.9,468.5 476.2,463.8 476.5,470.0 476.8,470.5 477.1,468.4 477.4,469.1 477.7,470.4 478.0,471.7 478.3,468.4 478.6,466.8 478.9,467.6 479.2,464.9 479.5,465.6 479.7,464.3 480.0,468.2 480.3,468.6 480.6,467.8 480.9,469.4 481.2,470.1 481.5,470.4 481.8,466.1 482.1,463.5 482.4,465.8 482.7,469.9 483.0,469.6 483.3,467.6 483.6,466.2 483.9,467.8 484.2,469.1 484.4,467.9 484.7,467.4 485.0,470.7 485.3,472.6 485.6,472.6 485.9,471.8 486.2,473.4 486.5,474.9 486.8,473.2 487.1,468.9 487.4,468.3 487.7,468.2 488.0,471.4 488.3,469.5 488.6,466.2 488.9,463.0 489.2,465.3 489.4,464.7 489.7,465.2 490.0,463.1 490.3,464.7 490.6,465.3 490.9,468.8 491.2,468.4 491.5,468.6 491.8,466.2 492.1,469.8 492.4,469.4 492.7,468.6 493.0,469.2 493.3,469.8 493.6,469.1 493.9,464.0 494.1,461.9 494.4,464.1 494.7,469.1 495.0,469.3 495.3,468.3 495.6,463.7 495.9,463.9 496.2,464.8 496.5,467.0 496.8,467.6 497.1,465.7 497.4,465.1 497.7,465.8 498.0,464.8 498.3,466.4 498.6,468.1 498.9,469.8 499.1,468.9 499.4,465.3 499.7,464.0 500.0,463.9 500.3,463.1 500.6,465.0 500.9,465.1 501.2,465.3 501.5,465.8 501.8,468.5 502.1,472.0 502.4,471.4 502.7,469.6 503.0,466.3 503.3,466.4 503.6,467.6 503.8,470.8 504.1,473.6 504.4,469.8 504.7,471.2 505.0,469.5 505.3,474.9 505.6,472.2 505.9,473.7 506.2,470.9 506.5,469.0 506.8,467.4 507.1,466.6 507.4,468.4 507.7,468.8 508.0,471.0 508.3,472.3 508.6,473.1 508.8,468.9 509.1,469.9 509.4,471.7 509.7,469.6 510.0,466.8 510.3,466.3 510.6,467.7 510.9,466.6 511.2,467.7 511.5,468.7 511.8,466.5 512.1,464.5 512.4,463.7 512.7,466.9 513.0,471.3 513.3,469.6 513.5,469.5 513.8,469.4 514.1,468.1 514.4,468.0 514.7,467.2 515.0,466.5 515.3,465.0 515.6,461.6 515.9,465.2 516.2,471.2 516.5,476.3 516.8,473.5 517.1,469.2 517.4,465.3 517.7,466.5 518.0,469.2 518.3,470.9 518.5,470.8 518.8,463.3 519.1,464.0 519.4,461.9 519.7,467.2 520.0,467.3 520.3,469.7 520.6,471.4 520.9,473.5 521.2,469.3 521.5,465.2 521.8,468.6 522.1,470.4 522.4,471.9 522.7,468.5 523.0,467.7 523.2,470.8 523.5,470.7 523.8,470.7 524.1,466.5 524.4,469.7 524.7,470.5 525.0,472.1 525.3,467.9 525.6,466.3 525.9,468.7 526.2,475.2 526.5,480.2 526.8,476.5 527.1,471.6 527.4,466.5 527.7,468.0 528.0,467.4 528.2,470.2 528.5,470.0 528.8,472.1 529.1,469.3 529.4,470.8 529.7,469.7 530.0,469.3 530.3,467.2 530.6,467.9 530.9,470.2 531.2,473.7 531.5,473.8 531.8,477.8 532.1,475.9 532.4,476.3 532.7,467.3 532.9,470.8 533.2,468.7 533.5,477.7 533.8,471.8 534.1,472.8 534.4,471.7 534.7,471.0 535.0,469.1 535.3,462.8 535.6,464.9 535.9,465.6 536.2,470.4 536.5,471.6 536.8,472.5 537.1,473.3 537.4,467.8 537.7,467.5 537.9,466.5 538.2,471.7 538.5,470.5 538.8,468.9 539.1,466.7 539.4,470.9 539.7,471.6 540.0,474.3 540.3,470.7 540.6,468.6 540.9,467.5 541.2,472.0 541.5,476.4 541.8,475.8 542.1,468.8 542.4,466.4 542.6,473.5 542.9,474.9 543.2,472.2 543.5,468.6 543.8,468.4 544.1,470.8 544.4,468.3 544.7,467.4 545.0,472.3 545.3,472.4 545.6,471.2 545.9,469.9 546.2,469.7 546.5,469.2 546.8,467.2 547.1,469.8 547.4,472.0 547.6,471.6 547.9,472.7 548.2,479.6 548.5,472.7 548.8,468.1 549.1,464.0 549.4,470.8 549.7,468.8 550.0,470.3 550.3,470.9 550.6,473.5 550.9,469.2 551.2,465.2 551.5,465.0 551.8,469.5 552.1,473.7 552.3,472.5 552.6,471.3 552.9,470.4 553.2,468.8 553.5,467.1 553.8,469.1 554.1,472.0 554.4,473.9 554.7,471.7 555.0,472.1 555.3,473.4 555.6,473.7 555.9,471.9 556.2,471.6 556.5,472.3 556.8,471.1 557.0,468.4 557.3,470.4 557.6,473.1 557.9,477.2 558.2,476.0 558.5,475.8 558.8,474.4 559.1,472.2 559.4,473.7 559.7,472.5 560.0,472.3 560.3,471.1 560.6,470.5 560.9,468.9 561.2,466.6 561.5,468.4 561.8,470.9 562.0,472.7 562.3,473.1 562.6,471.0 562.9,470.1 563.2,471.7 563.5,471.9 563.8,474.6 564.1,471.3 564.4,474.1 564.7,472.1 565.0,472.5 565.3,471.4 565.6,472.7 565.9,471.9 566.2,470.0 566.5,469.9 566.7,470.4 567.0,471.8 567.3,470.0 567.6,469.9 567.9,467.1 568.2,467.2 568.5,467.2 568.8,468.0 569.1,467.2 569.4,468.4 569.7,473.9 570.0,473.9 570.3,475.9 570.6,472.0 570.9,473.8 571.2,471.0 571.5,473.1 571.7,472.5 572.0,472.3 572.3,468.3 572.6,469.8 572.9,467.8 573.2,469.5 573.5,470.9 573.8,473.9 574.1,475.4 574.4,472.3 574.7,472.3 575.0,471.6 575.3,471.9 575.6,471.2 575.9,471.3 576.2,471.5 576.4,472.9 576.7,474.1 577.0,474.9 577.3,477.1 577.6,479.4 577.9,478.1 578.2,472.9 578.5,471.9 578.8,471.9 579.1,475.2 579.4,472.6 579.7,473.9 580.0,470.6 580.3,471.5 580.6,467.7 580.9,473.2 581.2,472.4 581.4,471.1 581.7,469.8 582.0,472.0 582.3,478.1 582.6,473.9 582.9,475.4 583.2,472.8 583.5,474.4 583.8,474.5 584.1,471.8 584.4,471.6 584.7,473.3 585.0,472.3 585.3,473.0 585.6,471.6 585.9,473.0 586.1,474.4 586.4,470.0 586.7,471.9 587.0,468.4 587.3,471.5 587.6,468.9 587.9,471.8 588.2,471.8 588.5,471.7 588.8,472.1 589.1,476.0 589.4,480.7 589.7,473.3 590.0,468.7 590.3,467.7 590.6,466.7 590.9,466.9 591.1,470.2 591.4,471.5 591.7,470.9 592.0,469.5 592.3,469.0 592.6,475.1 592.9,478.0 593.2,479.4 593.5,471.8 593.8,468.1 594.1,466.5 594.4,467.9 594.7,465.1 595.0,465.8 595.3,466.3 595.6,468.9 595.8,467.5 596.1,469.2 596.4,468.9 596.7,467.2 597.0,464.8 597.3,467.6 597.6,473.6 597.9,473.4 598.2,471.8 598.5,470.7 598.8,474.2 599.1,473.7 599.4,473.2 599.7,470.9 600.0,468.6 600.3,469.7 600.6,470.3 600.8,474.1 601.1,472.2 601.4,470.8 601.7,469.2 602.0,470.2 602.3,469.5 602.6,473.0 602.9,476.4 603.2,474.6 603.5,473.6 603.8,468.9 604.1,473.9 604.4,472.6 604.7,473.1 605.0,473.6 605.3,473.4 605.5,476.3 605.8,475.3 606.1,472.7 606.4,469.8 606.7,469.3 607.0,470.8 607.3,469.0 607.6,472.4 607.9,473.2 608.2,475.3 608.5,469.1 608.8,470.2 609.1,470.1 609.4,474.8 609.7,476.7 610.0,475.8 610.3,472.7 610.5,471.8 610.8,474.8 611.1,476.6 611.4,476.7 611.7,473.5 612.0,472.9 612.3,471.6 612.6,468.5 612.9,469.8 613.2,471.2 613.5,473.3 613.8,471.1 614.1,470.2 614.4,473.1 614.7,477.3 615.0,472.7 615.2,472.2 615.5,472.6 615.8,471.5 616.1,470.2 616.4,469.4 616.7,472.2 617.0,470.6 617.3,469.8 617.6,468.0 617.9,470.3 618.2,475.8 618.5,476.1 618.8,480.5 619.1,475.2 619.4,477.7 619.7,478.9 620.0,478.5 620.2,476.1 620.5,471.1 620.8,472.7 621.1,479.5 621.4,480.1 621.7,480.1 622.0,479.9 622.3,476.3 622.6,472.3 622.9,471.6 623.2,474.7 623.5,476.0 623.8,474.0 624.1,474.4 624.4,472.0 624.7,474.0 624.9,473.1 625.2,475.2 625.5,475.7 625.8,473.6 626.1,472.2 626.4,472.9 626.7,473.1 627.0,471.3 627.3,465.3 627.6,466.1 627.9,466.6 628.2,471.0 628.5,469.1 628.8,469.9 629.1,469.3 629.4,472.7 629.7,472.0 629.9,470.6 630.2,473.1 630.5,472.1 630.8,472.5 631.1,473.2 631.4,471.9 631.7,474.3 632.0,470.2 632.3,470.4 632.6,469.1 632.9,472.7 633.2,471.3 633.5,471.6 633.8,467.5 634.1,468.6 634.4,471.2 634.6,475.3 634.9,475.4 635.2,473.7 635.5,475.8 635.8,474.5 636.1,471.4 636.4,467.1 636.7,467.1 637.0,469.8 637.3,473.2 637.6,473.1 637.9,471.2 638.2,471.3 638.5,474.4 638.8,474.8 639.1,474.6 639.4,477.5 639.6,473.0 639.9,471.4 640.2,470.3 640.5,468.2 640.8,466.0 641.1,466.2 641.4,469.6 641.7,472.8 642.0,475.6 642.3,473.7 642.6,473.0 642.9,469.0 643.2,468.7 643.5,470.5 643.8,472.8 644.1,477.7 644.3,477.2 644.6,476.6 644.9,472.1 645.2,467.4 645.5,470.5 645.8,473.4 646.1,480.9 646.4,480.9 646.7,480.9 647.0,475.4 647.3,468.8 647.6,467.6 647.9,469.3 648.2,469.9 648.5,471.7 648.8,473.5 649.1,474.4 649.3,472.7 649.6,468.6 649.9,472.1 650.2,471.0 650.5,471.5 650.8,466.3 651.1,466.1 651.4,465.5 651.7,470.3 652.0,473.2 652.3,474.1 652.6,470.7 652.9,469.5 653.2,471.7"/><polyline stroke="#d62728" points="77.0,22.7 77.3,42.6 77.6,65.7 77.9,109.8 78.2,142.6 78.5,176.0 78.8,222.7 79.1,265.4 79.4,280.1 79.7,295.9 80.0,313.9 80.3,329.4 80.6,338.4 80.9,347.5 81.2,356.5 81.5,364.1 81.8,366.0 82.0,367.9 82.3,369.9 82.6,371.9 82.9,373.8 83.2,375.7 83.5,377.5 83.8,379.5 84.1,381.5 84.4,382.6 84.7,383.4 85.0,384.3 85.3,385.1 85.6,385.9 85.9,386.8 86.2,387.6 86.5,388.4 86.7,389.2 87.0,390.1 87.3,391.0 87.6,391.8 87.9,392.7 88.2,393.5 88.5,394.2 88.8,395.0 89.1,395.8 89.4,396.5 89.7,397.4 90.0,398.3 90.3,399.0 90.6,399.8 90.9,400.8 91.2,401.4 91.5,401.8 91.7,402.2 92.0,402.6 92.3,402.8 92.6,403.1 92.9,403.5 93.2,403.8 93.5,404.2 93.8,404.7 94.1,405.2 94.4,405.6 94.7,406.0 95.0,406.4 95.3,406.8 95.6,407.4 95.9,407.7 96.2,407.9 96.4,408.5 96.7,409.1 97.0,409.4 97.3,409.7 97.6,410.2 97.9,410.6 98.2,411.1 98.5,411.5 98.8,411.7 99.1,412.2 99.4,412.6 99.7,413.1 100.0,413.4 100.3,413.8 100.6,414.3 100.9,414.7 101.2,415.2 101.4,415.7 101.7,416.0 102.0,416.3 102.3,416.6 102.6,417.1 102.9,417.1 103.2,417.4 103.5,418.0 103.8,418.2 104.1,418.3 104.4,418.5 104.7,418.9 105.0,419.4 105.3,419.6 105.6,420.1 105.9,420.5 106.1,420.6 106.4,420.7 106.7,421.0 107.0,421.6 107.3,421.7 107.6,422.1 107.9,422.4 108.2,422.4 108.5,422.7 108.8,422.9 109.1,422.9 109.4,423.2 109.7,423.5 110.0,423.8 110.3,424.1 110.6,424.2 110.9,424.8 111.1,425.0 111.4,424.9 111.7,425.2 112.0,425.4 112.3,425.8 112.6,426.2 112.9,426.1 113.2,426.2 113.5,426.8 113.8,427.1 114.1,427.2 114.4,427.3 114.7,427.9 115.0,428.1 115.3,428.4 115.6,428.5 115.8,428.4 116.1,428.8 116.4,429.0 116.7,429.3 117.0,429.5 117.3,429.7 117.6,429.9 117.9,430.0 118.2,430.4 118.5,430.8 118.8,430.9 119.1,430.8 119.4,431.1 119.7,431.4 120.0,431.5 120.3,431.9 120.6,432.1 120.8,432.0 121.1,432.2 121.4,432.6 121.7,432.6 122.0,432.6 122.3,433.0 122.6,433.2 122.9,433.3 123.2,433.5 123.5,433.7 123.8,434.1 124.1,434.3 124.4,434.2 124.7,434.3 125.0,434.4 125.3,434.6 125.5,434.7 125.8,434.9 126.1,435.1 126.4,435.0 126.7,435.3 127.0,435.7 127.3,435.8 127.6,435.9 127.9,436.1 128.2,436.2 128.5,436.6 128.8,436.9 129.1,437.0 129.4,437.0 129.7,437.2 130.0,437.5 130.3,437.6 130.5,437.5 130.8,437.6 131.1,437.7 131.4,437.8 131.7,437.8 132.0,438.1 132.3,438.2 132.6,438.3 132.9,438.2 133.2,438.3 133.5,438.5 133.8,438.4 134.1,438.4 134.4,438.5 134.7,438.6 135.0,438.8 135.2,438.9 135.5,439.2 135.8,439.3 136.1,439.2 136.4,439.2 136.7,439.2 137.0,439.2 137.3,439.5 137.6,439.6 137.9,439.8 138.2,440.3 138.5,440.1 138.8,440.2 139.1,440.6 139.4,440.7 139.7,440.8 140.0,441.0 140.2,441.0 140.5,440.8 140.8,441.0 141.1,441.2 141.4,441.0 141.7,441.2 142.0,441.5 142.3,441.5 142.6,441.5 142.9,441.7 143.2,441.5 143.5,441.4 143.8,441.6 144.1,441.7 144.4,441.8 144.7,441.7 144.9,441.9 145.2,442.3 145.5,442.3 145.8,442.3 146.1,442.6 146.4,442.6 146.7,442.7 147.0,442.7 147.3,442.7 147.6,442.7 147.9,442.5 148.2,442.8 148.5,443.1 148.8,443.0 149.1,442.7 149.4,443.0 149.7,443.3 149.9,443.4 150.2,443.5 150.5,443.3 150.8,443.5 151.1,443.8 151.4,443.8 151.7,444.0 152.0,444.1 152.3,444.1 152.6,444.1 152.9,443.7 153.2,443.7 153.5,443.8 153.8,444.0 154.1,444.5 154.4,444.4 154.6,444.4 154.9,444.6 155.2,444.7 155.5,444.9 155.8,444.7 156.1,444.8 156.4,445.0 156.7,445.1 157.0,445.4 157.3,445.3 157.6,445.4 157.9,445.5 158.2,445.4 158.5,445.5 158.8,445.5 159.1,445.5 159.4,445.6 159.6,445.8 159.9,445.8 160.2,445.7 160.5,446.0 160.8,446.2 161.1,446.2 161.4,446.3 161.7,446.4 162.0,446.5 162.3,446.6 162.6,446.5 162.9,446.5 163.2,446.6 163.5,446.5 163.8,446.6 164.1,446.9 164.3,447.0 164.6,447.2 164.9,447.3 165.2,447.3 165.5,447.3 165.8,447.2 166.1,447.2 166.4,447.4 166.7,447.7 167.0,447.7 167.3,447.6 167.6,447.6 167.9,447.7 168.2,447.7 168.5,447.8 168.8,448.1 169.1,448.1 169.3,448.5 169.6,448.5 169.9,448.3 170.2,448.4 170.5,448.5 170.8,448.8 171.1,449.0 171.4,448.8 171.7,448.5 172.0,448.6 172.3,448.6 172.6,448.5 172.9,448.7 173.2,448.7 173.5,448.9 173.8,449.0 174.0,449.0 174.3,449.1 174.6,449.2 174.9,449.3 175.2,449.6 175.5,449.4 175.8,449.5 176.1,449.5 176.4,449.4 176.7,449.7 177.0,449.6 177.3,449.6 177.6,450.1 177.9,449.8 178.2,449.9 178.5,450.0 178.8,449.6 179.0,449.6 179.3,449.8 179.6,450.0 179.9,450.0 180.2,450.1 180.5,450.5 180.8,450.4 181.1,450.4 181.4,450.6 181.7,450.9 182.0,450.9 182.3,450.8 182.6,450.9 182.9,450.9 183.2,450.9 183.5,451.0 183.7,451.1 184.0,451.0 184.3,450.9 184.6,451.2 184.9,451.3 185.2,451.3 185.5,451.5 185.8,451.7 186.1,451.4 186.4,451.5 186.7,451.6 187.0,451.3 187.3,451.6 187.6,451.7 187.9,451.4 188.2,451.6 188.5,451.9 188.7,451.9 189.0,451.7 189.3,451.8 189.6,451.9 189.9,452.0 190.2,452.0 190.5,451.8 190.8,451.8 191.1,451.8 191.4,452.2 191.7,452.4 192.0,452.2 192.3,452.4 192.6,452.5 192.9,452.5 193.2,452.6 193.4,452.5 193.7,452.5 194.0,452.6 194.3,452.8 194.6,452.9 194.9,452.9 195.2,452.7 195.5,452.4 195.8,452.6 196.1,452.9 196.4,453.0 196.7,452.9 197.0,452.9 197.3,452.9 197.6,453.0 197.9,453.1 198.2,453.1 198.4,453.2 198.7,453.2 199.0,453.2 199.3,453.4 199.6,453.7 199.9,453.7 200.2,453.6 200.5,453.7 200.8,453.8 201.1,454.1 201.4,453.8 201.7,453.7 202.0,453.9 202.3,454.0 202.6,453.7 202.9,453.5 203.1,453.7 203.4,453.9 203.7,454.2 204.0,454.2 204.3,454.2 204.6,454.2 204.9,454.3 205.2,454.2 205.5,454.0 205.8,454.1 206.1,454.4 206.4,454.3 206.7,454.3 207.0,454.6 207.3,454.6 207.6,454.4 207.9,454.6 208.1,454.9 208.4,454.7 208.7,454.5 209.0,454.6 209.3,454.8 209.6,455.0 209.9,455.2 210.2,455.2 210.5,455.0 210.8,455.0 211.1,455.2 211.4,455.2 211.7,455.0 212.0,455.1 212.3,455.3 212.6,455.4 212.8,455.4 213.1,455.6 213.4,455.9 213.7,455.6 214.0,455.4 214.3,455.5 214.6,455.4 214.9,455.4 215.2,455.5 215.5,455.7 215.8,455.7 216.1,455.6 216.4,455.3 216.7,455.3 217.0,455.7 217.3,455.9 217.6,455.8 217.8,456.0 218.1,455.9 218.4,455.8 218.7,455.9 219.0,455.9 219.3,455.8 219.6,455.7 219.9,456.0 220.2,456.1 220.5,455.9 220.8,455.9 221.1,456.2 221.4,456.2 221.7,456.3 222.0,456.4 222.3,456.3 222.5,456.2 222.8,456.2 223.1,456.2 223.4,456.3 223.7,456.5 224.0,456.5 224.3,456.8 224.6,456.8 224.9,456.6 225.2,456.5 225.5,456.6 225.8,456.8 226.1,456.7 226.4,456.4 226.7,456.3 227.0,456.6 227.3,456.8 227.5,456.8 227.8,456.5 228.1,456.4 228.4,456.5 228.7,456.4 229.0,456.6 229.3,456.6 229.6,456.9 229.9,456.9 230.2,456.6 230.5,456.7 230.8,456.8 231.1,457.0 231.4,457.0 231.7,456.7 232.0,456.8 232.2,457.0 232.5,457.0 232.8,457.1 233.1,457.1 233.4,456.9 233.7,457.0 234.0,457.4 234.3,457.5 234.6,457.4 234.9,457.2 235.2,457.0 235.5,457.1 235.8,457.5 236.1,457.7 236.4,457.6 236.7,457.4 237.0,457.2 237.2,457.2 237.5,457.5 237.8,457.7 238.1,457.7 238.4,457.6 238.7,457.6 239.0,457.7 239.3,457.8 239.6,457.9 239.9,457.9 240.2,457.9 240.5,457.8 240.8,457.9 241.1,457.9 241.4,457.9 241.7,458.0 241.9,457.9 242.2,458.0 242.5,458.0 242.8,457.9 243.1,457.9 243.4,457.9 243.7,458.0 244.0,458.2 244.3,458.2 244.6,458.0 244.9,458.1 245.2,458.4 245.5,458.3 245.8,458.1 246.1,458.4 246.4,458.5 246.7,458.6 246.9,458.6 247.2,458.3 247.5,458.3 247.8,458.5 248.1,458.6 248.4,458.5 248.7,458.5 249.0,458.9 249.3,458.9 249.6,458.9 249.9,458.8 250.2,458.7 250.5,458.9 250.8,459.0 251.1,459.0 251.4,458.8 251.6,458.9 251.9,458.8 252.2,458.5 252.5,458.5 252.8,459.1 253.1,459.4 253.4,459.4 253.7,459.4 254.0,459.1 254.3,458.9 254.6,459.1 254.9,459.2 255.2,459.1 255.5,459.1 255.8,459.1 256.1,459.0 256.4,459.2 256.6,459.4 256.9,459.5 257.2,459.9 257.5,459.7 257.8,459.7 258.1,459.9 258.4,459.8 258.7,459.7 259.0,459.8 259.3,460.0 259.6,459.8 259.9,459.7 260.2,459.7 260.5,460.0 260.8,460.1 261.1,459.9 261.3,459.8 261.6,460.0 261.9,460.0 262.2,460.0 262.5,459.9 262.8,459.9 263.1,460.0 263.4,460.2 263.7,460.2 264.0,460.4 264.3,460.5 264.6,460.3 264.9,460.4 265.2,460.3 265.5,460.4 265.8,460.6 266.1,460.6 266.3,460.5 266.6,460.9 266.9,460.8 267.2,460.4 267.5,460.6 267.8,460.7 268.1,460.5 268.4,460.5 268.7,460.6 269.0,460.7 269.3,460.7 269.6,461.0 269.9,461.0 270.2,460.8 270.5,460.9 270.8,461.1 271.0,460.9 271.3,460.8 271.6,460.8 271.9,460.9 272.2,461.2 272.5,461.2 272.8,461.2 273.1,461.2 273.4,461.1 273.7,461.2 274.0,461.3 274.3,461.5 274.6,461.4 274.9,461.3 275.2,461.4 275.5,461.6 275.8,461.4 276.0,461.2 276.3,461.6 276.6,461.9 276.9,461.8 277.2,461.7 277.5,461.7 277.8,461.8 278.1,461.5 278.4,461.6 278.7,461.7 279.0,461.6 279.3,461.6 279.6,461.6 279.9,461.8 280.2,462.0 280.5,462.1 280.7,462.2 281.0,461.9 281.3,461.9 281.6,462.2 281.9,462.2 282.2,462.0 282.5,461.6 282.8,461.7 283.1,462.0 283.4,462.1 283.7,462.1 284.0,462.1 284.3,462.2 284.6,462.0 284.9,462.0 285.2,462.2 285.5,462.4 285.7,462.5 286.0,462.6 286.3,462.6 286.6,462.4 286.9,462.3 287.2,462.4 287.5,462.5 287.8,462.3 288.1,462.1 288.4,462.4 288.7,462.7 289.0,462.9 289.3,462.8 289.6,462.7 289.9,462.8 290.2,462.8 290.4,462.8 290.7,462.9 291.0,463.0 291.3,462.8 291.6,462.8 291.9,462.8 292.2,462.9 292.5,463.0 292.8,462.9 293.1,462.8 293.4,462.9 293.7,462.8 294.0,462.9 294.3,463.2 294.6,462.7 294.9,462.6 295.2,463.0 295.4,462.9 295.7,463.0 296.0,463.4 296.3,463.4 296.6,463.4 296.9,463.4 297.2,463.4 297.5,463.5 297.8,463.4 298.1,463.4 298.4,463.2 298.7,463.1 299.0,463.4 299.3,463.8 299.6,463.5 299.9,463.2 300.1,463.1 300.4,463.5 300.7,463.8 301.0,463.9 301.3,464.1 301.6,464.1 301.9,464.1 302.2,463.8 302.5,463.7 302.8,463.9 303.1,463.8 303.4,463.7 303.7,463.9 304.0,464.0 304.3,464.0 304.6,463.8 304.9,464.0 305.1,463.7 305.4,463.7 305.7,464.2 306.0,464.0 306.3,464.1 306.6,464.1 306.9,464.1 307.2,464.2 307.5,464.3 307.8,464.2 308.1,464.0 308.4,464.4 308.7,464.6 309.0,464.3 309.3,464.2 309.6,464.2 309.8,464.3 310.1,464.3 310.4,464.3 310.7,464.4 311.0,464.2 311.3,464.2 311.6,464.7 311.9,464.6 312.2,464.5 312.5,464.6 312.8,464.6 313.1,464.3 313.4,464.4 313.7,464.6 314.0,464.6 314.3,464.8 314.6,465.0 314.8,464.7 315.1,464.6 315.4,464.9 315.7,465.2 316.0,464.8 316.3,464.7 316.6,464.9 316.9,464.8 317.2,465.0 317.5,465.2 317.8,465.0 318.1,464.9 318.4,465.2 318.7,465.2 319.0,465.2 319.3,465.1 319.5,465.2 319.8,465.5 320.1,465.3 320.4,465.0 320.7,465.0 321.0,465.3 321.3,465.5 321.6,465.4 321.9,465.4 322.2,465.2 322.5,465.2 322.8,465.4 323.1,465.4 323.4,465.5 323.7,465.5 324.0,465.4 324.3,465.6 324.5,465.8 324.8,465.7 325.1,465.7 325.4,465.7 325.7,465.8 326.0,465.6 326.3,465.7 326.6,466.1 326.9,466.1 327.2,465.8 327.5,465.9 327.8,466.1 328.1,465.9 328.4,465.8 328.7,465.8 329.0,466.0 329.2,465.9 329.5,466.0 329.8,466.1 330.1,466.0 330.4,466.0 330.7,466.1 331.0,466.3 331.3,466.4 331.6,466.1 331.9,466.0 332.2,466.2 332.5,466.5 332.8,466.4 333.1,466.2 333.4,466.2 333.7,466.2 334.0,466.4 334.2,466.3 334.5,466.5 334.8,466.8 335.1,466.7 335.4,466.7 335.7,466.9 336.0,466.7 336.3,466.3 336.6,466.8 336.9,466.7 337.2,466.5 337.5,466.7 337.8,466.5 338.1,466.4 338.4,466.6 338.7,466.7 338.9,466.9 339.2,466.9 339.5,466.9 339.8,466.9 340.1,466.9 340.4,466.9 340.7,466.6 341.0,466.9 341.3,466.8 341.6,466.8 341.9,467.3 342.2,467.0 342.5,466.6 342.8,466.7 343.1,467.0 343.4,467.0 343.7,467.2 343.9,467.4 344.2,467.2 344.5,467.2 344.8,467.2 345.1,467.0 345.4,467.3 345.7,467.5 346.0,467.6 346.3,467.7 346.6,467.4 346.9,467.7 347.2,467.8 347.5,467.4 347.8,467.7 348.1,467.8 348.4,467.8 348.6,467.6 348.9,467.3 349.2,467.4 349.5,467.5 349.8,467.6 350.1,467.7 350.4,467.5 350.7,467.6 351.0,467.6 351.3,467.5 351.6,467.8 351.9,467.8 352.2,467.7 352.5,468.0 352.8,468.2 353.1,468.3 353.4,468.2 353.6,468.2 353.9,467.9 354.2,467.7 354.5,467.8 354.8,467.9 355.1,468.0 355.4,468.0 355.7,468.0 356.0,468.3 356.3,468.3 356.6,467.9 356.9,467.9 357.2,468.2 357.5,468.2 357.8,468.6 358.1,468.8 358.3,468.7 358.6,468.5 358.9,468.4 359.2,468.6 359.5,468.5 359.8,468.4 360.1,468.4 360.4,468.3 360.7,468.4 361.0,469.1 361.3,469.2 361.6,468.5 361.9,468.4 362.2,468.6 362.5,468.5 362.8,468.6 363.1,468.8 363.3,469.0 363.6,468.7 363.9,468.7 364.2,468.9 364.5,469.1 364.8,468.9 365.1,468.6 365.4,468.7 365.7,468.7 366.0,468.6 366.3,468.5 366.6,468.8 366.9,468.9 367.2,468.8 367.5,468.9 367.8,468.9 368.0,468.8 368.3,468.9 368.6,469.0 368.9,469.1 369.2,468.9 369.5,468.8 369.8,469.3 370.1,469.1 370.4,469.0 370.7,469.2 371.0,469.3 371.3,469.6 371.6,469.5 371.9,469.2 372.2,469.0 372.5,469.0 372.8,469.2 373.0,469.2 373.3,469.6 373.6,469.9 373.9,469.7 374.2,469.5 374.5,469.5 374.8,469.5 375.1,469.5 375.4,469.7 375.7,469.7 376.0,469.5 376.3,469.5 376.6,469.6 376.9,470.0 377.2,470.0 377.5,469.8 377.7,469.7 378.0,469.8 378.3,469.7 378.6,469.9 378.9,470.2 379.2,470.2 379.5,470.0 379.8,469.9 380.1,470.0 380.4,469.9 380.7,469.6 381.0,470.1 381.3,470.2 381.6,469.8 381.9,469.6 382.2,469.9 382.5,470.3 382.7,470.2 383.0,469.8 383.3,469.8 383.6,470.0 383.9,470.1 384.2,470.4 384.5,470.4 384.8,470.3 385.1,470.4 385.4,470.6 385.7,470.3 386.0,470.1 386.3,470.2 386.6,470.0 386.9,470.3 387.2,470.3 387.4,470.2 387.7,470.5 388.0,470.6 388.3,470.2 388.6,470.2 388.9,470.4 389.2,470.3 389.5,470.6 389.8,470.8 390.1,470.5 390.4,470.7 390.7,470.7 391.0,470.4 391.3,470.4 391.6,470.6 391.9,470.7 392.2,470.8 392.4,470.9 392.7,470.8 393.0,470.7 393.3,470.6 393.6,470.9 393.9,470.7 394.2,470.6 394.5,470.9 394.8,470.6 395.1,470.6 395.4,470.8 395.7,470.6 396.0,470.5 396.3,470.8 396.6,470.7 396.9,470.6 397.1,471.0 397.4,471.0 397.7,470.7 398.0,470.4 398.3,470.3 398.6,470.7 398.9,470.9 399.2,470.8 399.5,470.8 399.8,470.7 400.1,471.0 400.4,471.2 400.7,471.2 401.0,470.9 401.3,470.8 401.6,471.1 401.9,470.8 402.1,470.6 402.4,470.7 402.7,471.0 403.0,471.1 403.3,470.9 403.6,471.0 403.9,471.0 404.2,470.9 404.5,471.0 404.8,470.9 405.1,471.0 405.4,471.2 405.7,470.7 406.0,470.7 406.3,471.2 406.6,471.0 406.8,470.9 407.1,471.3 407.4,471.0 407.7,470.9 408.0,471.0 408.3,470.8 408.6,471.0 408.9,471.2 409.2,470.9 409.5,470.8 409.8,471.1 410.1,471.0 410.4,471.1 410.7,471.3 411.0,471.2 411.3,471.4 411.6,471.2 411.8,471.2 412.1,471.3 412.4,471.3 412.7,471.3 413.0,471.4 413.3,471.5 413.6,471.6 413.9,471.7 414.2,471.3 414.5,471.1 414.8,471.3 415.1,471.6 415.4,471.4 415.7,471.3 416.0,471.4 416.3,471.4 416.5,471.5 416.8,471.4 417.1,471.4 417.4,471.4 417.7,471.4 418.0,471.4 418.3,471.3 418.6,471.6 418.9,471.5 419.2,471.4 419.5,471.6 419.8,471.6 420.1,471.5 420.4,471.5 420.7,471.4 421.0,471.5 421.3,471.8 421.5,471.9 421.8,471.9 422.1,471.8 422.4,471.7 422.7,471.6 423.0,471.6 423.3,471.5 423.6,471.6 423.9,471.7 424.2,471.5 424.5,471.4 424.8,471.6 425.1,471.7 425.4,471.7 425.7,471.5 426.0,471.8 426.2,471.8 426.5,471.6 426.8,471.9 427.1,471.6 427.4,471.5 427.7,471.9 428.0,471.9 428.3,471.6 428.6,471.4 428.9,471.5 429.2,471.6 429.5,471.8 429.8,471.9 430.1,472.0 430.4,472.1 430.7,472.0 431.0,471.9 431.2,471.7 431.5,471.9 431.8,472.1 432.1,472.0 432.4,472.0 432.7,472.1 433.0,472.1 433.3,472.0 433.6,471.8 433.9,472.0 434.2,472.1 434.5,471.9 434.8,472.0 435.1,472.2 435.4,472.1 435.7,472.1 435.9,472.1 436.2,471.9 436.5,472.1 436.8,472.2 437.1,471.9 437.4,472.1 437.7,472.1 438.0,471.8 438.3,472.0 438.6,472.1 438.9,472.3 439.2,472.3 439.5,472.1 439.8,471.9 440.1,472.0 440.4,472.1 440.7,472.3 440.9,472.1 441.2,471.7 441.5,471.7 441.8,471.9 442.1,472.3 442.4,472.6 442.7,472.3 443.0,472.1 443.3,472.2 443.6,472.4 443.9,472.6 444.2,472.6 444.5,472.5 444.8,472.5 445.1,472.6 445.4,472.3 445.6,472.4 445.9,472.5 446.2,472.0 446.5,472.1 446.8,472.2 447.1,472.3 447.4,472.7 447.7,472.7 448.0,472.6 448.3,472.4 448.6,472.2 448.9,472.3 449.2,472.7 449.5,472.7 449.8,472.5 450.1,472.3 450.4,472.2 450.6,472.5 450.9,472.6 451.2,472.5 451.5,472.6 451.8,472.8 452.1,472.5 452.4,472.3 452.7,472.6 453.0,472.9 453.3,472.6 453.6,472.6 453.9,472.6 454.2,472.5 454.5,472.9 454.8,472.7 455.1,472.6 455.3,472.8 455.6,472.6 455.9,472.8 456.2,472.9 456.5,472.7 456.8,472.7 457.1,472.8 457.4,473.1 457.7,473.2 458.0,473.1 458.3,472.8 458.6,473.1 458.9,473.2 459.2,473.1 459.5,473.4 459.8,473.4 460.1,472.9 460.3,472.7 460.6,472.9 460.9,473.2 461.2,473.2 461.5,473.2 461.8,473.3 462.1,473.3 462.4,473.3 462.7,473.1 463.0,473.4 463.3,473.5 463.6,473.5 463.9,473.4 464.2,472.9 464.5,473.3 464.8,473.4 465.0,473.2 465.3,473.4 465.6,473.3 465.9,473.4 466.2,473.2 466.5,473.1 466.8,473.3 467.1,473.4 467.4,473.7 467.7,473.8 468.0,473.8 468.3,473.7 468.6,473.6 468.9,473.6 469.2,473.4 469.5,473.5 469.8,473.6 470.0,474.0 470.3,473.9 470.6,473.4 470.9,473.7 471.2,473.8 471.5,473.8 471.8,473.9 472.1,473.9 472.4,473.7 472.7,473.5 473.0,473.6 473.3,473.9 473.6,474.0 473.9,474.1 474.2,474.0 474.5,473.9 474.7,473.9 475.0,473.5 475.3,473.8 475.6,474.0 475.9,474.0 476.2,474.0 476.5,473.7 476.8,473.7 477.1,473.9 477.4,473.9 477.7,474.0 478.0,474.2 478.3,474.2 478.6,474.2 478.9,474.2 479.2,474.1 479.5,474.0 479.7,473.7 480.0,474.0 480.3,474.5 480.6,474.3 480.9,474.0 481.2,474.0 481.5,474.3 481.8,474.4 482.1,474.3 482.4,474.3 482.7,474.1 483.0,474.1 483.3,474.4 483.6,474.5 483.9,474.4 484.2,474.3 484.4,474.5 484.7,475.0 485.0,474.8 485.3,474.8 485.6,474.7 485.9,474.5 486.2,474.5 486.5,474.7 486.8,474.9 487.1,474.7 487.4,474.9 487.7,475.0 488.0,474.8 488.3,474.7 488.6,474.7 488.9,474.9 489.2,474.6 489.4,474.8 489.7,475.1 490.0,474.5 490.3,474.6 490.6,474.8 490.9,474.8 491.2,474.9 491.5,475.1 491.8,474.8 492.1,474.7 492.4,475.2 492.7,475.0 493.0,474.9 493.3,475.3 493.6,475.1 493.9,474.7 494.1,474.8 494.4,475.0 494.7,475.3 495.0,475.3 495.3,475.2 495.6,475.3 495.9,475.3 496.2,475.0 496.5,474.9 496.8,475.1 497.1,475.2 497.4,475.2 497.7,475.4 498.0,475.4 498.3,475.4 498.6,475.5 498.9,475.4 499.1,475.3 499.4,475.1 499.7,475.3 500.0,475.7 500.3,475.7 500.6,475.4 500.9,475.5 501.2,475.7 501.5,475.5 501.8,475.4 502.1,475.4 502.4,475.4 502.7,475.5 503.0,475.5 503.3,475.5 503.6,475.5 503.8,475.4 504.1,475.5 504.4,475.7 504.7,475.7 505.0,475.3 505.3,475.4 505.6,475.9 505.9,475.6 506.2,475.9 506.5,476.1 506.8,475.9 507.1,476.0 507.4,475.5 507.7,475.7 508.0,475.9 508.3,475.9 508.6,476.1 508.8,475.8 509.1,475.4 509.4,475.5 509.7,475.8 510.0,475.8 510.3,475.8 510.6,476.0 510.9,476.1 511.2,475.9 511.5,476.3 511.8,476.5 512.1,476.1 512.4,476.0 512.7,475.9 513.0,475.7 513.3,476.0 513.5,476.0 513.8,475.9 514.1,476.1 514.4,476.1 514.7,475.9 515.0,475.9 515.3,476.0 515.6,476.2 515.9,476.4 516.2,476.0 516.5,476.2 516.8,476.6 517.1,476.4 517.4,476.0 517.7,476.1 518.0,476.2 518.3,476.3 518.5,476.4 518.8,476.5 519.1,476.2 519.4,476.0 519.7,476.3 520.0,476.3 520.3,476.2 520.6,476.1 520.9,476.5 521.2,476.6 521.5,476.5 521.8,476.4 522.1,476.2 522.4,476.3 522.7,476.7 523.0,476.9 523.2,477.0 523.5,477.0 523.8,476.9 524.1,476.7 524.4,476.3 524.7,476.6 525.0,476.6 525.3,476.5 525.6,476.5 525.9,476.3 526.2,476.4 526.5,476.4 526.8,476.4 527.1,476.6 527.4,476.7 527.7,476.7 528.0,476.7 528.2,476.6 528.5,476.5 528.8,476.7 529.1,476.5 529.4,476.4 529.7,476.8 530.0,476.3 530.3,476.0 530.6,476.2 530.9,476.4 531.2,476.6 531.5,476.6 531.8,476.8 532.1,477.2 532.4,476.9 532.7,476.6 532.9,476.8 533.2,476.9 533.5,476.6 533.8,476.2 534.1,476.4 534.4,476.5 534.7,476.7 535.0,476.8 535.3,476.4 535.6,476.4 535.9,476.5 536.2,476.5 536.5,476.7 536.8,476.7 537.1,477.0 537.4,477.4 537.7,477.3 537.9,476.8 538.2,476.9 538.5,477.5 538.8,477.2 539.1,477.0 539.4,477.2 539.7,477.2 540.0,477.2 540.3,477.3 540.6,477.0 540.9,476.8 541.2,476.9 541.5,476.9 541.8,477.1 542.1,477.3 542.4,477.1 542.6,477.2 542.9,477.2 543.2,477.3 543.5,477.5 543.8,477.4 544.1,477.1 544.4,476.9 544.7,477.2 545.0,477.5 545.3,477.1 545.6,477.1 545.9,477.0 546.2,477.2 546.5,477.5 546.8,477.2 547.1,476.9 547.4,477.3 547.6,477.6 547.9,476.9 548.2,476.8 548.5,477.2 548.8,477.3 549.1,477.1 549.4,477.3 549.7,477.6 550.0,477.4 550.3,477.2 550.6,477.0 550.9,477.0 551.2,477.3 551.5,477.1 551.8,477.2 552.1,477.6 552.3,477.4 552.6,477.3 552.9,477.4 553.2,477.7 553.5,477.9 553.8,477.4 554.1,477.1 554.4,477.8 554.7,477.8 555.0,477.7 555.3,477.9 555.6,477.8 555.9,477.7 556.2,477.5 556.5,477.6 556.8,477.6 557.0,477.5 557.3,477.8 557.6,477.8 557.9,477.8 558.2,477.7 558.5,477.5 558.8,477.7 559.1,477.8 559.4,477.9 559.7,477.8 560.0,477.7 560.3,477.6 560.6,477.3 560.9,477.4 561.2,477.8 561.5,477.9 561.8,477.7 562.0,478.0 562.3,477.8 562.6,477.7 562.9,477.7 563.2,477.9 563.5,477.7 563.8,477.5 564.1,477.7 564.4,477.7 564.7,477.7 565.0,478.0 565.3,478.1 565.6,477.8 565.9,477.6 566.2,477.4 566.5,477.5 566.7,477.6 567.0,477.8 567.3,477.9 567.6,477.7 567.9,477.8 568.2,477.8 568.5,477.6 568.8,477.6 569.1,477.9 569.4,478.0 569.7,477.8 570.0,478.1 570.3,478.3 570.6,478.2 570.9,478.4 571.2,478.1 571.5,478.0 571.7,478.2 572.0,478.1 572.3,477.9 572.6,477.7 572.9,477.9 573.2,478.1 573.5,478.3 573.8,478.3 574.1,478.1 574.4,478.1 574.7,477.9 575.0,477.9 575.3,478.1 575.6,478.4 575.9,478.6 576.2,478.3 576.4,477.9 576.7,478.0 577.0,478.1 577.3,478.5 577.6,478.7 577.9,478.3 578.2,478.1 578.5,477.9 578.8,478.0 579.1,477.8 579.4,477.8 579.7,478.1 580.0,478.4 580.3,478.2 580.6,478.1 580.9,478.4 581.2,478.3 581.4,478.3 581.7,478.2 582.0,478.5 582.3,478.8 582.6,478.6 582.9,478.2 583.2,478.3 583.5,478.2 583.8,478.2 584.1,478.3 584.4,478.3 584.7,478.0 585.0,478.1 585.3,478.2 585.6,478.1 585.9,478.5 586.1,478.4 586.4,478.2 586.7,478.4 587.0,478.4 587.3,478.3 587.6,478.4 587.9,478.6 588.2,478.4 588.5,478.3 588.8,478.6 589.1,478.5 589.4,478.2 589.7,478.4 590.0,478.7 590.3,478.8 590.6,478.7 590.9,478.4 591.1,478.7 591.4,479.0 591.7,478.9 592.0,478.6 592.3,478.5 592.6,478.4 592.9,478.3 593.2,478.4 593.5,478.7 593.8,478.7 594.1,478.7 594.4,479.0 594.7,478.8 595.0,478.7 595.3,478.8 595.6,478.7 595.8,478.6 596.1,478.9 596.4,479.2 596.7,478.6 597.0,478.6 597.3,478.9 597.6,478.9 597.9,478.8 598.2,478.7 598.5,478.5 598.8,478.4 599.1,478.7 599.4,478.5 599.7,478.3 600.0,478.6 600.3,478.8 600.6,478.8 600.8,478.9 601.1,478.9 601.4,478.8 601.7,479.1 602.0,478.9 602.3,478.9 602.6,479.0 602.9,478.7 603.2,479.0 603.5,479.4 603.8,479.1 604.1,479.0 604.4,479.2 604.7,479.0 605.0,479.2 605.3,479.2 605.5,478.8 605.8,478.8 606.1,478.9 606.4,478.8 606.7,478.8 607.0,478.7 607.3,478.8 607.6,478.8 607.9,478.9 608.2,479.3 608.5,479.0 608.8,478.9 609.1,478.8 609.4,478.9 609.7,479.3 610.0,479.4 610.3,479.0 610.5,479.2 610.8,479.3 611.1,478.9 611.4,479.3 611.7,479.5 612.0,479.4 612.3,479.4 612.6,479.3 612.9,479.3 613.2,479.3 613.5,479.6 613.8,479.3 614.1,478.5 614.4,478.7 614.7,478.8 615.0,478.9 615.2,479.0 615.5,479.0 615.8,479.4 616.1,479.3 616.4,479.0 616.7,479.2 617.0,479.2 617.3,479.1 617.6,479.2 617.9,479.0 618.2,479.2 618.5,479.2 618.8,479.2 619.1,479.5 619.4,479.1 619.7,479.0 620.0,479.4 620.2,479.4 620.5,479.6 620.8,479.5 621.1,479.3 621.4,479.2 621.7,479.0 622.0,479.4 622.3,479.2 622.6,479.1 622.9,479.2 623.2,478.9 623.5,479.0 623.8,479.1 624.1,479.2 624.4,479.2 624.7,479.1 624.9,478.8 625.2,479.2 625.5,480.0 625.8,479.8 626.1,479.4 626.4,479.2 626.7,479.3 627.0,479.5 627.3,479.3 627.6,479.3 627.9,479.6 628.2,479.6 628.5,479.5 628.8,479.5 629.1,479.4 629.4,479.4 629.7,479.5 629.9,479.4 630.2,479.4 630.5,479.7 630.8,479.9 631.1,479.3 631.4,478.9 631.7,479.5 632.0,479.8 632.3,479.7 632.6,479.4 632.9,479.4 633.2,479.7 633.5,479.8 633.8,479.5 634.1,479.4 634.4,479.6 634.6,479.7 634.9,479.9 635.2,479.5 635.5,479.1 635.8,479.7 636.1,479.7 636.4,479.5 636.7,479.9 637.0,479.7 637.3,479.6 637.6,480.1 637.9,479.8 638.2,479.1 638.5,479.5 638.8,479.8 639.1,479.6 639.4,479.7 639.6,479.9 639.9,479.9 640.2,479.9 640.5,480.0 640.8,479.9 641.1,479.9 641.4,480.0 641.7,479.8 642.0,480.3 642.3,479.9 642.6,479.2 642.9,479.4 643.2,479.5 643.5,479.8 643.8,479.8 644.1,480.2 644.3,480.1 644.6,479.6 644.9,479.6 645.2,479.8 645.5,479.7 645.8,479.9 646.1,480.1 646.4,480.1 646.7,479.9 647.0,479.8 647.3,480.0 647.6,479.8 647.9,479.5 648.2,479.6 648.5,479.7 648.8,479.8 649.1,480.1 649.3,480.1 649.6,480.5 649.9,480.6 650.2,479.8 650.5,479.7 650.8,480.1 651.1,480.0 651.4,479.9 651.7,480.0 652.0,479.7 652.3,479.3 652.6,479.9 652.9,480.1 653.2,480.2"/></g><rect x="48.5" y="0.25" width="633.3" height="502.95" fill="none" stroke="#000" stroke-width="1.09" stroke-linejoin="miter"/><g stroke="#000" stroke-width="1.09"><line x1="44.3" y1="480.40" x2="48.5" y2="480.40"/><line x1="44.3" y1="388.94" x2="48.5" y2="388.94"/><line x1="44.3" y1="297.48" x2="48.5" y2="297.48"/><line x1="44.3" y1="206.02" x2="48.5" y2="206.02"/><line x1="44.3" y1="114.56" x2="48.5" y2="114.56"/><line x1="44.3" y1="23.10" x2="48.5" y2="23.10"/><line x1="77.05" y1="503.2" x2="77.05" y2="507.4"/><line x1="194.62" y1="503.2" x2="194.62" y2="507.4"/><line x1="312.20" y1="503.2" x2="312.20" y2="507.4"/><line x1="429.78" y1="503.2" x2="429.78" y2="507.4"/><line x1="547.35" y1="503.2" x2="547.35" y2="507.4"/><line x1="664.92" y1="503.2" x2="664.92" y2="507.4"/></g><g font-family="'DejaVu Sans', 'Liberation Sans', sans-serif" font-size="13.6" fill="#000" stroke="#000" stroke-width="0.25"><text x="40.2" y="485.40" text-anchor="end">0.0</text><text x="40.2" y="393.94" text-anchor="end">0.2</text><text x="40.2" y="302.48" text-anchor="end">0.4</text><text x="40.2" y="211.02" text-anchor="end">0.6</text><text x="40.2" y="119.56" text-anchor="end">0.8</text><text x="40.2" y="28.10" text-anchor="end">1.0</text><text x="77.05" y="521.90" text-anchor="middle">0</text><text x="194.62" y="521.90" text-anchor="middle">10000</text><text x="312.20" y="521.90" text-anchor="middle">20000</text><text x="429.78" y="521.90" text-anchor="middle">30000</text><text x="547.35" y="521.90" text-anchor="middle">40000</text><text x="664.92" y="521.90" text-anchor="middle">50000</text><text x="365.15" y="540.6" text-anchor="middle">Update Step</text><text transform="translate(10.5,251.85) rotate(-90)" text-anchor="middle">Normalized Double Difference Residual</text></g><rect x="574.7" y="5.7" width="101.09999999999991" height="86.3" rx="2.3" ry="2.3" fill="#fff" fill-opacity="0.8" stroke="#ccc" stroke-opacity="0.8" stroke-width="1.09"/><line x1="579.2" y1="14.8" x2="601.9" y2="14.8" stroke="#1f77b4" stroke-width="2.04" stroke-linecap="square"/><text x="610.9" y="19.00" font-family="'DejaVu Sans', 'Liberation Sans', sans-serif" font-size="11.33" fill="#000" stroke="#000" stroke-width="0.25">California</text><line x1="579.2" y1="31.3" x2="601.9" y2="31.3" stroke="#9c1a1e" stroke-width="2.04" stroke-linecap="square"/><text x="610.9" y="35.50" font-family="'DejaVu Sans', 'Liberation Sans', sans-serif" font-size="11.33" fill="#000" stroke="#000" stroke-width="0.25">Ridgecrest</text><line x1="579.2" y1="47.8" x2="601.9" y2="47.8" stroke="#ff7f0e" stroke-width="2.04" stroke-linecap="square"/><text x="610.9" y="52.00" font-family="'DejaVu Sans', 'Liberation Sans', sans-serif" font-size="11.33" fill="#000" stroke="#000" stroke-width="0.25">Turkiye</text><line x1="579.2" y1="64.3" x2="601.9" y2="64.3" stroke="#2ca02c" stroke-width="2.04" stroke-linecap="square"/><text x="610.9" y="68.50" font-family="'DejaVu Sans', 'Liberation Sans', sans-serif" font-size="11.33" fill="#000" stroke="#000" stroke-width="0.25">Chile</text><line x1="579.2" y1="80.7" x2="601.9" y2="80.7" stroke="#d62728" stroke-width="2.04" stroke-linecap="square"/><text x="610.9" y="84.90" font-family="'DejaVu Sans', 'Liberation Sans', sans-serif" font-size="11.33" fill="#000" stroke="#000" stroke-width="0.25">Synthetic</text></svg>
</body></html>
